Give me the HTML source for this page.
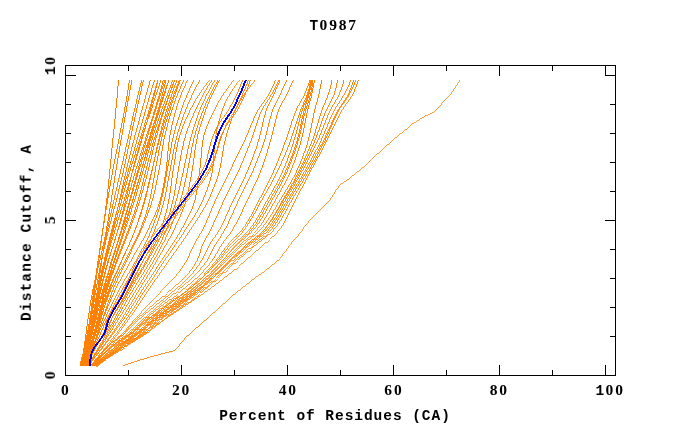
<!DOCTYPE html>
<html><head><meta charset="utf-8"><style>
html,body{margin:0;padding:0;background:#fff;}
svg{display:block;} text{will-change:transform;}
text{font-family:"Liberation Mono",monospace;}
</style></head><body>
<svg width="680" height="440" viewBox="0 0 680 440">
<rect width="680" height="440" fill="#fff"/>
<g fill="none" stroke="#ff8000" stroke-width="1" shape-rendering="crispEdges"><polyline points="118.5,80.0 118.3,83.0 118.0,86.0 117.7,89.0 117.5,92.0" stroke-width="1.00"/>
<polyline points="117.5,92.0 117.2,95.0 117.0,98.0 116.7,101.0 116.4,104.0" stroke-width="1.00"/>
<polyline points="116.4,104.0 116.1,107.0 115.9,110.0 115.6,113.0 115.3,116.0" stroke-width="1.00"/>
<polyline points="115.3,116.0 115.0,119.0 114.7,122.0 114.4,125.0 114.1,128.0" stroke-width="1.00"/>
<polyline points="114.1,128.0 113.7,131.0 113.4,134.0 113.1,137.0 112.8,140.0" stroke-width="0.99"/>
<polyline points="112.8,140.0 112.5,143.0 112.2,146.0 111.9,149.0 111.7,152.0" stroke-width="1.00"/>
<polyline points="111.7,152.0 111.4,155.0 111.1,158.0 110.8,161.0 110.5,164.0" stroke-width="1.00"/>
<polyline points="110.5,164.0 110.2,167.0 109.9,170.0 109.6,173.0 109.3,176.0" stroke-width="1.00"/>
<polyline points="109.3,176.0 109.0,179.0 108.7,182.0 108.4,185.0 108.1,188.0" stroke-width="1.00"/>
<polyline points="108.1,188.0 107.8,191.0 107.5,194.0 107.1,197.0 106.8,200.0" stroke-width="0.99"/>
<polyline points="106.8,200.0 106.4,203.0 106.0,206.0 105.7,209.0 105.3,212.0" stroke-width="0.99"/>
<polyline points="105.3,212.0 104.9,215.0 104.4,218.0 104.0,221.0 103.6,224.0" stroke-width="0.99"/>
<polyline points="103.6,224.0 103.2,227.0 102.7,230.0 102.3,233.0 101.9,236.0" stroke-width="0.99"/>
<polyline points="101.9,236.0 101.4,239.0 100.9,242.0 100.5,245.0 100.0,248.0" stroke-width="0.99"/>
<polyline points="100.0,248.0 99.5,251.0 99.1,254.0 98.6,257.0 98.1,260.0" stroke-width="0.99"/>
<polyline points="98.1,260.0 97.7,263.0 97.3,266.0 96.8,269.0 96.4,272.0" stroke-width="0.99"/>
<polyline points="96.4,272.0 96.0,275.0 95.5,278.0 95.1,281.0 94.7,284.0" stroke-width="0.99"/>
<polyline points="94.7,284.0 94.3,287.0 93.8,290.0 93.4,293.0 93.0,296.0" stroke-width="0.99"/>
<polyline points="93.0,296.0 92.6,299.0 92.2,302.0 91.8,305.0 91.4,308.0" stroke-width="0.99"/>
<polyline points="91.4,308.0 91.0,311.0 90.5,314.0 90.1,317.0 89.6,320.0" stroke-width="0.99"/>
<polyline points="89.6,320.0 89.1,323.0 88.6,326.0 88.1,329.0 87.6,332.0" stroke-width="0.99"/>
<polyline points="87.6,332.0 87.0,335.0 86.4,338.0 85.8,341.0 85.2,344.0" stroke-width="0.98"/>
<polyline points="85.2,344.0 84.6,347.0 83.9,350.0 83.2,353.0 82.4,356.0" stroke-width="0.97"/>
<polyline points="82.4,356.0 81.6,359.0 80.8,362.0 80.0,366.0" stroke-width="0.97"/>
<polyline points="129.5,80.0 129.0,83.0 128.6,86.0 128.1,89.0 127.6,92.0" stroke-width="0.99"/>
<polyline points="127.6,92.0 127.1,95.0 126.6,98.0 126.1,101.0 125.6,104.0" stroke-width="0.99"/>
<polyline points="125.6,104.0 125.0,107.0 124.5,110.0 124.0,113.0 123.4,116.0" stroke-width="0.98"/>
<polyline points="123.4,116.0 122.8,119.0 122.3,122.0 121.7,125.0 121.1,128.0" stroke-width="0.98"/>
<polyline points="121.1,128.0 120.5,131.0 119.9,134.0 119.4,137.0 118.8,140.0" stroke-width="0.98"/>
<polyline points="118.8,140.0 118.2,143.0 117.6,146.0 117.0,149.0 116.4,152.0" stroke-width="0.98"/>
<polyline points="116.4,152.0 115.8,155.0 115.2,158.0 114.6,161.0 114.0,164.0" stroke-width="0.98"/>
<polyline points="114.0,164.0 113.5,167.0 112.9,170.0 112.4,173.0 111.8,176.0" stroke-width="0.98"/>
<polyline points="111.8,176.0 111.3,179.0 110.7,182.0 110.2,185.0 109.7,188.0" stroke-width="0.98"/>
<polyline points="109.7,188.0 109.2,191.0 108.7,194.0 108.1,197.0 107.6,200.0" stroke-width="0.98"/>
<polyline points="107.6,200.0 107.1,203.0 106.7,206.0 106.2,209.0 105.7,212.0" stroke-width="0.99"/>
<polyline points="105.7,212.0 105.2,215.0 104.7,218.0 104.3,221.0 103.8,224.0" stroke-width="0.99"/>
<polyline points="103.8,224.0 103.4,227.0 102.9,230.0 102.5,233.0 102.0,236.0" stroke-width="0.99"/>
<polyline points="102.0,236.0 101.6,239.0 101.2,242.0 100.7,245.0 100.3,248.0" stroke-width="0.99"/>
<polyline points="100.3,248.0 99.9,251.0 99.5,254.0 99.1,257.0 98.6,260.0" stroke-width="0.99"/>
<polyline points="98.6,260.0 98.2,263.0 97.8,266.0 97.4,269.0 97.1,272.0" stroke-width="0.99"/>
<polyline points="97.1,272.0 96.7,275.0 96.3,278.0 95.9,281.0 95.5,284.0" stroke-width="0.99"/>
<polyline points="95.5,284.0 95.1,287.0 94.7,290.0 94.3,293.0 93.9,296.0" stroke-width="0.99"/>
<polyline points="93.9,296.0 93.5,299.0 93.1,302.0 92.6,305.0 92.2,308.0" stroke-width="0.99"/>
<polyline points="92.2,308.0 91.8,311.0 91.3,314.0 90.8,317.0 90.3,320.0" stroke-width="0.99"/>
<polyline points="90.3,320.0 89.8,323.0 89.3,326.0 88.7,329.0 88.2,332.0" stroke-width="0.98"/>
<polyline points="88.2,332.0 87.6,335.0 86.9,338.0 86.3,341.0 85.7,344.0" stroke-width="0.98"/>
<polyline points="85.7,344.0 85.0,347.0 84.3,350.0 83.6,353.0 82.8,356.0" stroke-width="0.97"/>
<polyline points="82.8,356.0 82.0,359.0 81.2,362.0 80.4,366.0" stroke-width="0.97"/>
<polyline points="132.0,80.0 131.4,83.0 130.8,86.0 130.3,89.0 129.7,92.0" stroke-width="0.98"/>
<polyline points="129.7,92.0 129.1,95.0 128.6,98.0 128.0,101.0 127.4,104.0" stroke-width="0.98"/>
<polyline points="127.4,104.0 126.9,107.0 126.3,110.0 125.8,113.0 125.3,116.0" stroke-width="0.98"/>
<polyline points="125.3,116.0 124.7,119.0 124.2,122.0 123.7,125.0 123.1,128.0" stroke-width="0.98"/>
<polyline points="123.1,128.0 122.6,131.0 122.1,134.0 121.6,137.0 121.0,140.0" stroke-width="0.98"/>
<polyline points="121.0,140.0 120.5,143.0 120.0,146.0 119.5,149.0 119.0,152.0" stroke-width="0.99"/>
<polyline points="119.0,152.0 118.5,155.0 118.0,158.0 117.5,161.0 117.0,164.0" stroke-width="0.99"/>
<polyline points="117.0,164.0 116.5,167.0 116.0,170.0 115.5,173.0 115.0,176.0" stroke-width="0.99"/>
<polyline points="115.0,176.0 114.6,179.0 114.1,182.0 113.6,185.0 113.2,188.0" stroke-width="0.99"/>
<polyline points="113.2,188.0 112.7,191.0 112.2,194.0 111.8,197.0 111.3,200.0" stroke-width="0.99"/>
<polyline points="111.3,200.0 110.8,203.0 110.4,206.0 109.9,209.0 109.4,212.0" stroke-width="0.99"/>
<polyline points="109.4,212.0 108.9,215.0 108.5,218.0 108.0,221.0 107.5,224.0" stroke-width="0.99"/>
<polyline points="107.5,224.0 106.9,227.0 106.4,230.0 105.8,233.0 105.2,236.0" stroke-width="0.98"/>
<polyline points="105.2,236.0 104.6,239.0 103.9,242.0 103.3,245.0 102.6,248.0" stroke-width="0.98"/>
<polyline points="102.6,248.0 101.9,251.0 101.2,254.0 100.6,257.0 99.9,260.0" stroke-width="0.98"/>
<polyline points="99.9,260.0 99.2,263.0 98.5,266.0 97.8,269.0 97.0,272.0" stroke-width="0.97"/>
<polyline points="97.0,272.0 96.3,275.0 95.6,278.0 94.8,281.0 94.2,284.0" stroke-width="0.97"/>
<polyline points="94.2,284.0 93.5,287.0 92.9,290.0 92.3,293.0 91.8,296.0" stroke-width="0.98"/>
<polyline points="91.8,296.0 91.2,299.0 90.7,302.0 90.2,305.0 89.7,308.0" stroke-width="0.98"/>
<polyline points="89.7,308.0 89.3,311.0 88.8,314.0 88.3,317.0 87.9,320.0" stroke-width="0.99"/>
<polyline points="87.9,320.0 87.4,323.0 87.0,326.0 86.6,329.0 86.2,332.0" stroke-width="0.99"/>
<polyline points="86.2,332.0 85.9,335.0 85.5,338.0 85.0,341.0 84.6,344.0" stroke-width="0.99"/>
<polyline points="84.6,344.0 84.1,347.0 83.6,350.0 83.1,353.0 82.6,356.0" stroke-width="0.99"/>
<polyline points="82.6,356.0 82.0,359.0 81.4,362.0 80.9,366.0" stroke-width="0.98"/>
<polyline points="141.6,80.0 140.9,83.0 140.2,86.0 139.4,89.0 138.7,92.0" stroke-width="0.97"/>
<polyline points="138.7,92.0 138.0,95.0 137.3,98.0 136.6,101.0 135.9,104.0" stroke-width="0.97"/>
<polyline points="135.9,104.0 135.2,107.0 134.5,110.0 133.8,113.0 133.1,116.0" stroke-width="0.97"/>
<polyline points="133.1,116.0 132.4,119.0 131.8,122.0 131.1,125.0 130.4,128.0" stroke-width="0.98"/>
<polyline points="130.4,128.0 129.7,131.0 129.0,134.0 128.4,137.0 127.7,140.0" stroke-width="0.98"/>
<polyline points="127.7,140.0 127.0,143.0 126.3,146.0 125.6,149.0 125.0,152.0" stroke-width="0.98"/>
<polyline points="125.0,152.0 124.3,155.0 123.6,158.0 122.9,161.0 122.2,164.0" stroke-width="0.97"/>
<polyline points="122.2,164.0 121.5,167.0 120.8,170.0 120.2,173.0 119.5,176.0" stroke-width="0.98"/>
<polyline points="119.5,176.0 118.8,179.0 118.1,182.0 117.4,185.0 116.7,188.0" stroke-width="0.97"/>
<polyline points="116.7,188.0 116.0,191.0 115.3,194.0 114.6,197.0 114.0,200.0" stroke-width="0.98"/>
<polyline points="114.0,200.0 113.3,203.0 112.6,206.0 111.9,209.0 111.2,212.0" stroke-width="0.97"/>
<polyline points="111.2,212.0 110.5,215.0 109.9,218.0 109.2,221.0 108.6,224.0" stroke-width="0.98"/>
<polyline points="108.6,224.0 107.9,227.0 107.3,230.0 106.7,233.0 106.2,236.0" stroke-width="0.98"/>
<polyline points="106.2,236.0 105.6,239.0 105.0,242.0 104.5,245.0 103.9,248.0" stroke-width="0.98"/>
<polyline points="103.9,248.0 103.4,251.0 102.9,254.0 102.4,257.0 101.9,260.0" stroke-width="0.99"/>
<polyline points="101.9,260.0 101.4,263.0 101.0,266.0 100.6,269.0 100.2,272.0" stroke-width="0.99"/>
<polyline points="100.2,272.0 99.8,275.0 99.4,278.0 98.9,281.0 98.5,284.0" stroke-width="0.99"/>
<polyline points="98.5,284.0 98.1,287.0 97.7,290.0 97.2,293.0 96.8,296.0" stroke-width="0.99"/>
<polyline points="96.8,296.0 96.4,299.0 95.9,302.0 95.5,305.0 95.0,308.0" stroke-width="0.99"/>
<polyline points="95.0,308.0 94.5,311.0 94.1,314.0 93.5,317.0 93.0,320.0" stroke-width="0.99"/>
<polyline points="93.0,320.0 92.4,323.0 91.8,326.0 91.1,329.0 90.5,332.0" stroke-width="0.98"/>
<polyline points="90.5,332.0 89.8,335.0 89.0,338.0 88.3,341.0 87.5,344.0" stroke-width="0.97"/>
<polyline points="87.5,344.0 86.7,347.0 85.8,350.0 84.9,353.0 84.0,356.0" stroke-width="0.96"/>
<polyline points="84.0,356.0 83.0,359.0 81.9,362.0 80.9,366.0" stroke-width="0.95"/>
<polyline points="143.5,80.0 142.8,83.0 142.1,86.0 141.4,89.0 140.7,92.0" stroke-width="0.97"/>
<polyline points="140.7,92.0 140.0,95.0 139.4,98.0 138.7,101.0 138.0,104.0" stroke-width="0.98"/>
<polyline points="138.0,104.0 137.3,107.0 136.6,110.0 136.0,113.0 135.3,116.0" stroke-width="0.98"/>
<polyline points="135.3,116.0 134.6,119.0 134.0,122.0 133.3,125.0 132.7,128.0" stroke-width="0.98"/>
<polyline points="132.7,128.0 132.0,131.0 131.4,134.0 130.7,137.0 130.1,140.0" stroke-width="0.98"/>
<polyline points="130.1,140.0 129.4,143.0 128.8,146.0 128.1,149.0 127.5,152.0" stroke-width="0.98"/>
<polyline points="127.5,152.0 126.9,155.0 126.2,158.0 125.6,161.0 124.9,164.0" stroke-width="0.98"/>
<polyline points="124.9,164.0 124.3,167.0 123.6,170.0 122.9,173.0 122.2,176.0" stroke-width="0.98"/>
<polyline points="122.2,176.0 121.5,179.0 120.8,182.0 120.1,185.0 119.4,188.0" stroke-width="0.97"/>
<polyline points="119.4,188.0 118.6,191.0 117.9,194.0 117.2,197.0 116.4,200.0" stroke-width="0.97"/>
<polyline points="116.4,200.0 115.7,203.0 114.9,206.0 114.1,209.0 113.3,212.0" stroke-width="0.97"/>
<polyline points="113.3,212.0 112.5,215.0 111.7,218.0 110.9,221.0 110.1,224.0" stroke-width="0.97"/>
<polyline points="110.1,224.0 109.3,227.0 108.6,230.0 107.8,233.0 107.1,236.0" stroke-width="0.97"/>
<polyline points="107.1,236.0 106.4,239.0 105.6,242.0 104.9,245.0 104.2,248.0" stroke-width="0.97"/>
<polyline points="104.2,248.0 103.5,251.0 102.9,254.0 102.2,257.0 101.6,260.0" stroke-width="0.98"/>
<polyline points="101.6,260.0 101.0,263.0 100.4,266.0 99.8,269.0 99.2,272.0" stroke-width="0.98"/>
<polyline points="99.2,272.0 98.7,275.0 98.1,278.0 97.6,281.0 97.0,284.0" stroke-width="0.98"/>
<polyline points="97.0,284.0 96.5,287.0 96.0,290.0 95.4,293.0 94.9,296.0" stroke-width="0.98"/>
<polyline points="94.9,296.0 94.4,299.0 94.0,302.0 93.5,305.0 93.0,308.0" stroke-width="0.99"/>
<polyline points="93.0,308.0 92.5,311.0 92.0,314.0 91.5,317.0 91.0,320.0" stroke-width="0.99"/>
<polyline points="91.0,320.0 90.4,323.0 89.9,326.0 89.3,329.0 88.8,332.0" stroke-width="0.98"/>
<polyline points="88.8,332.0 88.2,335.0 87.6,338.0 87.0,341.0 86.4,344.0" stroke-width="0.98"/>
<polyline points="86.4,344.0 85.7,347.0 85.0,350.0 84.3,353.0 83.6,356.0" stroke-width="0.97"/>
<polyline points="83.6,356.0 82.8,359.0 82.1,362.0 81.3,366.0" stroke-width="0.97"/>
<polyline points="150.4,80.0 149.5,83.0 148.7,86.0 147.8,89.0 147.0,92.0" stroke-width="0.96"/>
<polyline points="147.0,92.0 146.1,95.0 145.3,98.0 144.5,101.0 143.6,104.0" stroke-width="0.96"/>
<polyline points="143.6,104.0 142.8,107.0 142.0,110.0 141.1,113.0 140.3,116.0" stroke-width="0.96"/>
<polyline points="140.3,116.0 139.5,119.0 138.7,122.0 137.9,125.0 137.0,128.0" stroke-width="0.96"/>
<polyline points="137.0,128.0 136.2,131.0 135.4,134.0 134.6,137.0 133.9,140.0" stroke-width="0.97"/>
<polyline points="133.9,140.0 133.1,143.0 132.3,146.0 131.5,149.0 130.8,152.0" stroke-width="0.97"/>
<polyline points="130.8,152.0 130.0,155.0 129.3,158.0 128.5,161.0 127.8,164.0" stroke-width="0.97"/>
<polyline points="127.8,164.0 127.1,167.0 126.4,170.0 125.7,173.0 125.0,176.0" stroke-width="0.97"/>
<polyline points="125.0,176.0 124.3,179.0 123.6,182.0 123.0,185.0 122.3,188.0" stroke-width="0.98"/>
<polyline points="122.3,188.0 121.7,191.0 121.0,194.0 120.3,197.0 119.6,200.0" stroke-width="0.98"/>
<polyline points="119.6,200.0 118.9,203.0 118.2,206.0 117.5,209.0 116.8,212.0" stroke-width="0.97"/>
<polyline points="116.8,212.0 116.1,215.0 115.4,218.0 114.7,221.0 113.9,224.0" stroke-width="0.97"/>
<polyline points="113.9,224.0 113.2,227.0 112.5,230.0 111.7,233.0 110.9,236.0" stroke-width="0.97"/>
<polyline points="110.9,236.0 110.1,239.0 109.3,242.0 108.5,245.0 107.7,248.0" stroke-width="0.97"/>
<polyline points="107.7,248.0 106.9,251.0 106.1,254.0 105.3,257.0 104.5,260.0" stroke-width="0.97"/>
<polyline points="104.5,260.0 103.8,263.0 103.0,266.0 102.3,269.0 101.6,272.0" stroke-width="0.97"/>
<polyline points="101.6,272.0 100.9,275.0 100.2,278.0 99.5,281.0 98.8,284.0" stroke-width="0.97"/>
<polyline points="98.8,284.0 98.2,287.0 97.6,290.0 97.0,293.0 96.4,296.0" stroke-width="0.98"/>
<polyline points="96.4,296.0 95.8,299.0 95.3,302.0 94.8,305.0 94.3,308.0" stroke-width="0.98"/>
<polyline points="94.3,308.0 93.8,311.0 93.2,314.0 92.7,317.0 92.1,320.0" stroke-width="0.98"/>
<polyline points="92.1,320.0 91.5,323.0 91.0,326.0 90.4,329.0 89.8,332.0" stroke-width="0.98"/>
<polyline points="89.8,332.0 89.2,335.0 88.5,338.0 87.9,341.0 87.2,344.0" stroke-width="0.98"/>
<polyline points="87.2,344.0 86.5,347.0 85.8,350.0 85.0,353.0 84.2,356.0" stroke-width="0.97"/>
<polyline points="84.2,356.0 83.4,359.0 82.6,362.0 81.7,366.0" stroke-width="0.97"/>
<polyline points="154.5,80.0 153.6,83.0 152.7,86.0 151.8,89.0 150.9,92.0" stroke-width="0.96"/>
<polyline points="150.9,92.0 150.0,95.0 149.1,98.0 148.3,101.0 147.4,104.0" stroke-width="0.96"/>
<polyline points="147.4,104.0 146.5,107.0 145.6,110.0 144.8,113.0 143.9,116.0" stroke-width="0.96"/>
<polyline points="143.9,116.0 143.0,119.0 142.2,122.0 141.3,125.0 140.5,128.0" stroke-width="0.96"/>
<polyline points="140.5,128.0 139.6,131.0 138.8,134.0 137.9,137.0 137.1,140.0" stroke-width="0.96"/>
<polyline points="137.1,140.0 136.2,143.0 135.4,146.0 134.5,149.0 133.7,152.0" stroke-width="0.96"/>
<polyline points="133.7,152.0 132.8,155.0 132.0,158.0 131.1,161.0 130.3,164.0" stroke-width="0.96"/>
<polyline points="130.3,164.0 129.4,167.0 128.6,170.0 127.7,173.0 126.9,176.0" stroke-width="0.96"/>
<polyline points="126.9,176.0 126.0,179.0 125.1,182.0 124.3,185.0 123.4,188.0" stroke-width="0.96"/>
<polyline points="123.4,188.0 122.6,191.0 121.7,194.0 120.9,197.0 120.0,200.0" stroke-width="0.96"/>
<polyline points="120.0,200.0 119.2,203.0 118.3,206.0 117.5,209.0 116.6,212.0" stroke-width="0.96"/>
<polyline points="116.6,212.0 115.8,215.0 115.0,218.0 114.1,221.0 113.3,224.0" stroke-width="0.96"/>
<polyline points="113.3,224.0 112.5,227.0 111.7,230.0 111.0,233.0 110.2,236.0" stroke-width="0.97"/>
<polyline points="110.2,236.0 109.4,239.0 108.7,242.0 107.9,245.0 107.2,248.0" stroke-width="0.97"/>
<polyline points="107.2,248.0 106.5,251.0 105.8,254.0 105.1,257.0 104.4,260.0" stroke-width="0.97"/>
<polyline points="104.4,260.0 103.8,263.0 103.1,266.0 102.5,269.0 101.9,272.0" stroke-width="0.98"/>
<polyline points="101.9,272.0 101.3,275.0 100.7,278.0 100.1,281.0 99.5,284.0" stroke-width="0.98"/>
<polyline points="99.5,284.0 98.9,287.0 98.3,290.0 97.8,293.0 97.2,296.0" stroke-width="0.98"/>
<polyline points="97.2,296.0 96.6,299.0 96.1,302.0 95.6,305.0 95.0,308.0" stroke-width="0.98"/>
<polyline points="95.0,308.0 94.4,311.0 93.9,314.0 93.3,317.0 92.7,320.0" stroke-width="0.98"/>
<polyline points="92.7,320.0 92.1,323.0 91.4,326.0 90.8,329.0 90.1,332.0" stroke-width="0.98"/>
<polyline points="90.1,332.0 89.4,335.0 88.7,338.0 88.0,341.0 87.3,344.0" stroke-width="0.97"/>
<polyline points="87.3,344.0 86.6,347.0 85.8,350.0 85.1,353.0 84.3,356.0" stroke-width="0.97"/>
<polyline points="84.3,356.0 83.5,359.0 82.6,362.0 81.8,366.0" stroke-width="0.97"/>
<polyline points="157.7,80.0 156.9,83.0 156.0,86.0 155.2,89.0 154.4,92.0" stroke-width="0.96"/>
<polyline points="154.4,92.0 153.5,95.0 152.7,98.0 151.8,101.0 150.9,104.0" stroke-width="0.96"/>
<polyline points="150.9,104.0 150.0,107.0 149.1,110.0 148.2,113.0 147.3,116.0" stroke-width="0.96"/>
<polyline points="147.3,116.0 146.4,119.0 145.4,122.0 144.5,125.0 143.5,128.0" stroke-width="0.95"/>
<polyline points="143.5,128.0 142.6,131.0 141.6,134.0 140.6,137.0 139.7,140.0" stroke-width="0.95"/>
<polyline points="139.7,140.0 138.7,143.0 137.8,146.0 136.8,149.0 135.8,152.0" stroke-width="0.95"/>
<polyline points="135.8,152.0 134.9,155.0 133.9,158.0 133.0,161.0 132.0,164.0" stroke-width="0.95"/>
<polyline points="132.0,164.0 131.1,167.0 130.2,170.0 129.3,173.0 128.4,176.0" stroke-width="0.96"/>
<polyline points="128.4,176.0 127.6,179.0 126.7,182.0 125.9,185.0 125.0,188.0" stroke-width="0.96"/>
<polyline points="125.0,188.0 124.2,191.0 123.4,194.0 122.6,197.0 121.7,200.0" stroke-width="0.96"/>
<polyline points="121.7,200.0 120.9,203.0 120.1,206.0 119.2,209.0 118.4,212.0" stroke-width="0.96"/>
<polyline points="118.4,212.0 117.6,215.0 116.8,218.0 116.0,221.0 115.1,224.0" stroke-width="0.96"/>
<polyline points="115.1,224.0 114.3,227.0 113.5,230.0 112.7,233.0 111.9,236.0" stroke-width="0.97"/>
<polyline points="111.9,236.0 111.0,239.0 110.2,242.0 109.4,245.0 108.6,248.0" stroke-width="0.96"/>
<polyline points="108.6,248.0 107.8,251.0 107.0,254.0 106.2,257.0 105.5,260.0" stroke-width="0.97"/>
<polyline points="105.5,260.0 104.8,263.0 104.1,266.0 103.5,269.0 102.8,272.0" stroke-width="0.98"/>
<polyline points="102.8,272.0 102.2,275.0 101.6,278.0 100.9,281.0 100.4,284.0" stroke-width="0.98"/>
<polyline points="100.4,284.0 99.8,287.0 99.2,290.0 98.6,293.0 98.1,296.0" stroke-width="0.98"/>
<polyline points="98.1,296.0 97.6,299.0 97.1,302.0 96.6,305.0 96.1,308.0" stroke-width="0.99"/>
<polyline points="96.1,308.0 95.6,311.0 95.1,314.0 94.5,317.0 94.0,320.0" stroke-width="0.98"/>
<polyline points="94.0,320.0 93.4,323.0 92.7,326.0 92.1,329.0 91.4,332.0" stroke-width="0.98"/>
<polyline points="91.4,332.0 90.7,335.0 90.0,338.0 89.3,341.0 88.5,344.0" stroke-width="0.97"/>
<polyline points="88.5,344.0 87.7,347.0 86.8,350.0 86.0,353.0 85.1,356.0" stroke-width="0.96"/>
<polyline points="85.1,356.0 84.1,359.0 83.1,362.0 82.1,366.0" stroke-width="0.96"/>
<polyline points="158.0,80.0 157.3,83.0 156.5,86.0 155.7,89.0 155.0,92.0" stroke-width="0.97"/>
<polyline points="155.0,92.0 154.2,95.0 153.4,98.0 152.6,101.0 151.8,104.0" stroke-width="0.97"/>
<polyline points="151.8,104.0 151.0,107.0 150.2,110.0 149.4,113.0 148.6,116.0" stroke-width="0.97"/>
<polyline points="148.6,116.0 147.8,119.0 147.0,122.0 146.1,125.0 145.3,128.0" stroke-width="0.96"/>
<polyline points="145.3,128.0 144.4,131.0 143.6,134.0 142.7,137.0 141.8,140.0" stroke-width="0.96"/>
<polyline points="141.8,140.0 141.0,143.0 140.1,146.0 139.2,149.0 138.3,152.0" stroke-width="0.96"/>
<polyline points="138.3,152.0 137.4,155.0 136.5,158.0 135.6,161.0 134.7,164.0" stroke-width="0.96"/>
<polyline points="134.7,164.0 133.9,167.0 133.0,170.0 132.1,173.0 131.2,176.0" stroke-width="0.96"/>
<polyline points="131.2,176.0 130.3,179.0 129.4,182.0 128.6,185.0 127.7,188.0" stroke-width="0.96"/>
<polyline points="127.7,188.0 126.8,191.0 125.9,194.0 125.0,197.0 124.2,200.0" stroke-width="0.96"/>
<polyline points="124.2,200.0 123.3,203.0 122.4,206.0 121.4,209.0 120.5,212.0" stroke-width="0.96"/>
<polyline points="120.5,212.0 119.6,215.0 118.7,218.0 117.8,221.0 116.9,224.0" stroke-width="0.96"/>
<polyline points="116.9,224.0 116.0,227.0 115.1,230.0 114.2,233.0 113.3,236.0" stroke-width="0.96"/>
<polyline points="113.3,236.0 112.3,239.0 111.4,242.0 110.5,245.0 109.6,248.0" stroke-width="0.96"/>
<polyline points="109.6,248.0 108.7,251.0 107.9,254.0 107.0,257.0 106.2,260.0" stroke-width="0.96"/>
<polyline points="106.2,260.0 105.4,263.0 104.7,266.0 103.9,269.0 103.2,272.0" stroke-width="0.97"/>
<polyline points="103.2,272.0 102.4,275.0 101.7,278.0 101.1,281.0 100.4,284.0" stroke-width="0.97"/>
<polyline points="100.4,284.0 99.7,287.0 99.1,290.0 98.5,293.0 98.0,296.0" stroke-width="0.98"/>
<polyline points="98.0,296.0 97.5,299.0 97.0,302.0 96.5,305.0 96.0,308.0" stroke-width="0.99"/>
<polyline points="96.0,308.0 95.5,311.0 94.9,314.0 94.4,317.0 93.9,320.0" stroke-width="0.98"/>
<polyline points="93.9,320.0 93.3,323.0 92.7,326.0 92.1,329.0 91.5,332.0" stroke-width="0.98"/>
<polyline points="91.5,332.0 90.9,335.0 90.3,338.0 89.6,341.0 88.9,344.0" stroke-width="0.98"/>
<polyline points="88.9,344.0 88.2,347.0 87.3,350.0 86.5,353.0 85.6,356.0" stroke-width="0.96"/>
<polyline points="85.6,356.0 84.6,359.0 83.6,362.0 82.6,366.0" stroke-width="0.96"/>
<polyline points="161.0,80.0 160.0,83.0 159.0,86.0 158.1,89.0 157.1,92.0" stroke-width="0.95"/>
<polyline points="157.1,92.0 156.1,95.0 155.1,98.0 154.1,101.0 153.1,104.0" stroke-width="0.95"/>
<polyline points="153.1,104.0 152.2,107.0 151.2,110.0 150.2,113.0 149.2,116.0" stroke-width="0.95"/>
<polyline points="149.2,116.0 148.1,119.0 147.1,122.0 146.1,125.0 145.0,128.0" stroke-width="0.94"/>
<polyline points="145.0,128.0 144.0,131.0 143.1,134.0 142.1,137.0 141.2,140.0" stroke-width="0.95"/>
<polyline points="141.2,140.0 140.2,143.0 139.4,146.0 138.5,149.0 137.6,152.0" stroke-width="0.96"/>
<polyline points="137.6,152.0 136.7,155.0 135.9,158.0 135.1,161.0 134.3,164.0" stroke-width="0.96"/>
<polyline points="134.3,164.0 133.5,167.0 132.7,170.0 132.0,173.0 131.3,176.0" stroke-width="0.97"/>
<polyline points="131.3,176.0 130.6,179.0 129.9,182.0 129.2,185.0 128.6,188.0" stroke-width="0.98"/>
<polyline points="128.6,188.0 127.9,191.0 127.2,194.0 126.5,197.0 125.8,200.0" stroke-width="0.97"/>
<polyline points="125.8,200.0 125.0,203.0 124.3,206.0 123.5,209.0 122.7,212.0" stroke-width="0.97"/>
<polyline points="122.7,212.0 121.9,215.0 121.1,218.0 120.3,221.0 119.5,224.0" stroke-width="0.97"/>
<polyline points="119.5,224.0 118.7,227.0 117.8,230.0 117.0,233.0 116.1,236.0" stroke-width="0.96"/>
<polyline points="116.1,236.0 115.1,239.0 114.2,242.0 113.3,245.0 112.3,248.0" stroke-width="0.95"/>
<polyline points="112.3,248.0 111.4,251.0 110.5,254.0 109.6,257.0 108.8,260.0" stroke-width="0.96"/>
<polyline points="108.8,260.0 107.9,263.0 107.1,266.0 106.3,269.0 105.5,272.0" stroke-width="0.96"/>
<polyline points="105.5,272.0 104.7,275.0 103.9,278.0 103.1,281.0 102.4,284.0" stroke-width="0.97"/>
<polyline points="102.4,284.0 101.7,287.0 101.0,290.0 100.3,293.0 99.7,296.0" stroke-width="0.98"/>
<polyline points="99.7,296.0 99.1,299.0 98.5,302.0 97.9,305.0 97.3,308.0" stroke-width="0.98"/>
<polyline points="97.3,308.0 96.8,311.0 96.2,314.0 95.6,317.0 94.9,320.0" stroke-width="0.98"/>
<polyline points="94.9,320.0 94.3,323.0 93.6,326.0 93.0,329.0 92.3,332.0" stroke-width="0.98"/>
<polyline points="92.3,332.0 91.6,335.0 90.9,338.0 90.2,341.0 89.4,344.0" stroke-width="0.97"/>
<polyline points="89.4,344.0 88.6,347.0 87.7,350.0 86.8,353.0 85.8,356.0" stroke-width="0.96"/>
<polyline points="85.8,356.0 84.8,359.0 83.8,362.0 82.7,366.0" stroke-width="0.95"/>
<polyline points="163.3,80.0 162.5,83.0 161.7,86.0 160.9,89.0 160.0,92.0" stroke-width="0.96"/>
<polyline points="160.0,92.0 159.2,95.0 158.3,98.0 157.4,101.0 156.5,104.0" stroke-width="0.96"/>
<polyline points="156.5,104.0 155.6,107.0 154.7,110.0 153.8,113.0 152.9,116.0" stroke-width="0.96"/>
<polyline points="152.9,116.0 151.9,119.0 151.0,122.0 150.0,125.0 149.1,128.0" stroke-width="0.95"/>
<polyline points="149.1,128.0 148.1,131.0 147.1,134.0 146.1,137.0 145.2,140.0" stroke-width="0.95"/>
<polyline points="145.2,140.0 144.2,143.0 143.3,146.0 142.3,149.0 141.4,152.0" stroke-width="0.95"/>
<polyline points="141.4,152.0 140.4,155.0 139.5,158.0 138.5,161.0 137.6,164.0" stroke-width="0.95"/>
<polyline points="137.6,164.0 136.7,167.0 135.8,170.0 134.9,173.0 134.0,176.0" stroke-width="0.96"/>
<polyline points="134.0,176.0 133.2,179.0 132.3,182.0 131.5,185.0 130.6,188.0" stroke-width="0.96"/>
<polyline points="130.6,188.0 129.8,191.0 128.9,194.0 128.1,197.0 127.2,200.0" stroke-width="0.96"/>
<polyline points="127.2,200.0 126.3,203.0 125.4,206.0 124.5,209.0 123.6,212.0" stroke-width="0.96"/>
<polyline points="123.6,212.0 122.7,215.0 121.8,218.0 120.9,221.0 119.9,224.0" stroke-width="0.96"/>
<polyline points="119.9,224.0 119.0,227.0 118.1,230.0 117.1,233.0 116.1,236.0" stroke-width="0.95"/>
<polyline points="116.1,236.0 115.2,239.0 114.2,242.0 113.2,245.0 112.2,248.0" stroke-width="0.95"/>
<polyline points="112.2,248.0 111.2,251.0 110.2,254.0 109.3,257.0 108.4,260.0" stroke-width="0.95"/>
<polyline points="108.4,260.0 107.5,263.0 106.7,266.0 105.8,269.0 105.0,272.0" stroke-width="0.96"/>
<polyline points="105.0,272.0 104.2,275.0 103.4,278.0 102.6,281.0 101.8,284.0" stroke-width="0.97"/>
<polyline points="101.8,284.0 101.0,287.0 100.3,290.0 99.6,293.0 99.0,296.0" stroke-width="0.97"/>
<polyline points="99.0,296.0 98.3,299.0 97.7,302.0 97.1,305.0 96.5,308.0" stroke-width="0.98"/>
<polyline points="96.5,308.0 95.9,311.0 95.3,314.0 94.6,317.0 94.0,320.0" stroke-width="0.98"/>
<polyline points="94.0,320.0 93.3,323.0 92.6,326.0 92.0,329.0 91.3,332.0" stroke-width="0.98"/>
<polyline points="91.3,332.0 90.6,335.0 89.9,338.0 89.2,341.0 88.5,344.0" stroke-width="0.97"/>
<polyline points="88.5,344.0 87.7,347.0 87.0,350.0 86.2,353.0 85.4,356.0" stroke-width="0.97"/>
<polyline points="85.4,356.0 84.6,359.0 83.8,362.0 83.0,366.0" stroke-width="0.97"/>
<polyline points="165.0,80.0 164.0,83.0 163.1,86.0 162.1,89.0 161.2,92.0" stroke-width="0.95"/>
<polyline points="161.2,92.0 160.2,95.0 159.3,98.0 158.3,101.0 157.4,104.0" stroke-width="0.95"/>
<polyline points="157.4,104.0 156.5,107.0 155.5,110.0 154.6,113.0 153.7,116.0" stroke-width="0.96"/>
<polyline points="153.7,116.0 152.7,119.0 151.8,122.0 150.9,125.0 150.0,128.0" stroke-width="0.96"/>
<polyline points="150.0,128.0 149.1,131.0 148.2,134.0 147.3,137.0 146.4,140.0" stroke-width="0.96"/>
<polyline points="146.4,140.0 145.5,143.0 144.7,146.0 143.8,149.0 143.0,152.0" stroke-width="0.96"/>
<polyline points="143.0,152.0 142.1,155.0 141.3,158.0 140.4,161.0 139.6,164.0" stroke-width="0.96"/>
<polyline points="139.6,164.0 138.8,167.0 137.9,170.0 137.1,173.0 136.3,176.0" stroke-width="0.96"/>
<polyline points="136.3,176.0 135.5,179.0 134.6,182.0 133.8,185.0 133.0,188.0" stroke-width="0.96"/>
<polyline points="133.0,188.0 132.2,191.0 131.4,194.0 130.5,197.0 129.7,200.0" stroke-width="0.96"/>
<polyline points="129.7,200.0 128.9,203.0 128.0,206.0 127.2,209.0 126.3,212.0" stroke-width="0.96"/>
<polyline points="126.3,212.0 125.5,215.0 124.6,218.0 123.8,221.0 122.9,224.0" stroke-width="0.96"/>
<polyline points="122.9,224.0 122.0,227.0 121.2,230.0 120.3,233.0 119.4,236.0" stroke-width="0.96"/>
<polyline points="119.4,236.0 118.5,239.0 117.6,242.0 116.7,245.0 115.7,248.0" stroke-width="0.96"/>
<polyline points="115.7,248.0 114.8,251.0 113.9,254.0 113.0,257.0 112.1,260.0" stroke-width="0.96"/>
<polyline points="112.1,260.0 111.1,263.0 110.2,266.0 109.3,269.0 108.3,272.0" stroke-width="0.95"/>
<polyline points="108.3,272.0 107.4,275.0 106.4,278.0 105.5,281.0 104.6,284.0" stroke-width="0.96"/>
<polyline points="104.6,284.0 103.7,287.0 102.8,290.0 101.9,293.0 101.1,296.0" stroke-width="0.96"/>
<polyline points="101.1,296.0 100.2,299.0 99.4,302.0 98.5,305.0 97.7,308.0" stroke-width="0.96"/>
<polyline points="97.7,308.0 96.9,311.0 96.1,314.0 95.3,317.0 94.5,320.0" stroke-width="0.97"/>
<polyline points="94.5,320.0 93.7,323.0 93.0,326.0 92.2,329.0 91.4,332.0" stroke-width="0.97"/>
<polyline points="91.4,332.0 90.7,335.0 89.9,338.0 89.2,341.0 88.4,344.0" stroke-width="0.97"/>
<polyline points="88.4,344.0 87.7,347.0 87.0,350.0 86.3,353.0 85.5,356.0" stroke-width="0.97"/>
<polyline points="85.5,356.0 84.8,359.0 84.1,362.0 83.4,366.0" stroke-width="0.98"/>
<polyline points="166.0,80.0 165.3,83.0 164.5,86.0 163.8,89.0 163.0,92.0" stroke-width="0.97"/>
<polyline points="163.0,92.0 162.2,95.0 161.4,98.0 160.6,101.0 159.7,104.0" stroke-width="0.96"/>
<polyline points="159.7,104.0 158.9,107.0 158.0,110.0 157.1,113.0 156.2,116.0" stroke-width="0.96"/>
<polyline points="156.2,116.0 155.3,119.0 154.3,122.0 153.4,125.0 152.4,128.0" stroke-width="0.95"/>
<polyline points="152.4,128.0 151.4,131.0 150.5,134.0 149.5,137.0 148.5,140.0" stroke-width="0.95"/>
<polyline points="148.5,140.0 147.6,143.0 146.6,146.0 145.7,149.0 144.7,152.0" stroke-width="0.95"/>
<polyline points="144.7,152.0 143.7,155.0 142.8,158.0 141.8,161.0 140.9,164.0" stroke-width="0.95"/>
<polyline points="140.9,164.0 139.9,167.0 139.0,170.0 138.1,173.0 137.2,176.0" stroke-width="0.96"/>
<polyline points="137.2,176.0 136.3,179.0 135.5,182.0 134.6,185.0 133.8,188.0" stroke-width="0.96"/>
<polyline points="133.8,188.0 132.9,191.0 132.1,194.0 131.2,197.0 130.3,200.0" stroke-width="0.96"/>
<polyline points="130.3,200.0 129.5,203.0 128.6,206.0 127.7,209.0 126.9,212.0" stroke-width="0.96"/>
<polyline points="126.9,212.0 126.0,215.0 125.2,218.0 124.3,221.0 123.4,224.0" stroke-width="0.96"/>
<polyline points="123.4,224.0 122.5,227.0 121.6,230.0 120.7,233.0 119.8,236.0" stroke-width="0.96"/>
<polyline points="119.8,236.0 118.9,239.0 118.0,242.0 117.0,245.0 116.1,248.0" stroke-width="0.96"/>
<polyline points="116.1,248.0 115.2,251.0 114.3,254.0 113.3,257.0 112.4,260.0" stroke-width="0.96"/>
<polyline points="112.4,260.0 111.5,263.0 110.6,266.0 109.7,269.0 108.8,272.0" stroke-width="0.96"/>
<polyline points="108.8,272.0 107.9,275.0 107.0,278.0 106.1,281.0 105.2,284.0" stroke-width="0.96"/>
<polyline points="105.2,284.0 104.3,287.0 103.5,290.0 102.7,293.0 101.9,296.0" stroke-width="0.96"/>
<polyline points="101.9,296.0 101.1,299.0 100.4,302.0 99.6,305.0 98.9,308.0" stroke-width="0.97"/>
<polyline points="98.9,308.0 98.1,311.0 97.4,314.0 96.6,317.0 95.9,320.0" stroke-width="0.97"/>
<polyline points="95.9,320.0 95.1,323.0 94.4,326.0 93.6,329.0 92.8,332.0" stroke-width="0.97"/>
<polyline points="92.8,332.0 92.1,335.0 91.3,338.0 90.5,341.0 89.7,344.0" stroke-width="0.97"/>
<polyline points="89.7,344.0 88.9,347.0 88.1,350.0 87.2,353.0 86.3,356.0" stroke-width="0.96"/>
<polyline points="86.3,356.0 85.4,359.0 84.5,362.0 83.6,366.0" stroke-width="0.96"/>
<polyline points="169.0,80.0 167.9,83.0 166.8,86.0 165.8,89.0 164.7,92.0" stroke-width="0.94"/>
<polyline points="164.7,92.0 163.7,95.0 162.6,98.0 161.6,101.0 160.6,104.0" stroke-width="0.95"/>
<polyline points="160.6,104.0 159.6,107.0 158.6,110.0 157.7,113.0 156.7,116.0" stroke-width="0.95"/>
<polyline points="156.7,116.0 155.7,119.0 154.8,122.0 153.8,125.0 152.9,128.0" stroke-width="0.95"/>
<polyline points="152.9,128.0 152.0,131.0 151.1,134.0 150.2,137.0 149.4,140.0" stroke-width="0.96"/>
<polyline points="149.4,140.0 148.5,143.0 147.7,146.0 146.9,149.0 146.2,152.0" stroke-width="0.97"/>
<polyline points="146.2,152.0 145.4,155.0 144.7,158.0 143.9,161.0 143.1,164.0" stroke-width="0.97"/>
<polyline points="143.1,164.0 142.3,167.0 141.5,170.0 140.7,173.0 139.9,176.0" stroke-width="0.97"/>
<polyline points="139.9,176.0 139.1,179.0 138.2,182.0 137.4,185.0 136.5,188.0" stroke-width="0.96"/>
<polyline points="136.5,188.0 135.7,191.0 134.8,194.0 133.8,197.0 132.9,200.0" stroke-width="0.96"/>
<polyline points="132.9,200.0 131.9,203.0 130.9,206.0 129.8,209.0 128.7,212.0" stroke-width="0.94"/>
<polyline points="128.7,212.0 127.6,215.0 126.5,218.0 125.3,221.0 124.2,224.0" stroke-width="0.94"/>
<polyline points="124.2,224.0 123.1,227.0 122.0,230.0 121.0,233.0 119.9,236.0" stroke-width="0.94"/>
<polyline points="119.9,236.0 118.8,239.0 117.7,242.0 116.6,245.0 115.5,248.0" stroke-width="0.94"/>
<polyline points="115.5,248.0 114.5,251.0 113.5,254.0 112.5,257.0 111.6,260.0" stroke-width="0.95"/>
<polyline points="111.6,260.0 110.8,263.0 110.0,266.0 109.2,269.0 108.5,272.0" stroke-width="0.97"/>
<polyline points="108.5,272.0 107.7,275.0 107.0,278.0 106.3,281.0 105.6,284.0" stroke-width="0.97"/>
<polyline points="105.6,284.0 105.0,287.0 104.3,290.0 103.6,293.0 103.0,296.0" stroke-width="0.98"/>
<polyline points="103.0,296.0 102.4,299.0 101.9,302.0 101.3,305.0 100.7,308.0" stroke-width="0.98"/>
<polyline points="100.7,308.0 100.1,311.0 99.5,314.0 98.8,317.0 98.1,320.0" stroke-width="0.98"/>
<polyline points="98.1,320.0 97.4,323.0 96.6,326.0 95.8,329.0 95.0,332.0" stroke-width="0.97"/>
<polyline points="95.0,332.0 94.1,335.0 93.2,338.0 92.3,341.0 91.4,344.0" stroke-width="0.96"/>
<polyline points="91.4,344.0 90.4,347.0 89.4,350.0 88.4,353.0 87.3,356.0" stroke-width="0.95"/>
<polyline points="87.3,356.0 86.2,359.0 85.0,362.0 83.9,366.0" stroke-width="0.94"/>
<polyline points="169.0,80.0 168.0,83.0 167.1,86.0 166.1,89.0 165.2,92.0" stroke-width="0.95"/>
<polyline points="165.2,92.0 164.2,95.0 163.3,98.0 162.3,101.0 161.4,104.0" stroke-width="0.95"/>
<polyline points="161.4,104.0 160.4,107.0 159.5,110.0 158.6,113.0 157.7,116.0" stroke-width="0.96"/>
<polyline points="157.7,116.0 156.7,119.0 155.8,122.0 154.9,125.0 154.0,128.0" stroke-width="0.96"/>
<polyline points="154.0,128.0 153.1,131.0 152.2,134.0 151.3,137.0 150.4,140.0" stroke-width="0.96"/>
<polyline points="150.4,140.0 149.5,143.0 148.6,146.0 147.7,149.0 146.8,152.0" stroke-width="0.96"/>
<polyline points="146.8,152.0 145.9,155.0 145.0,158.0 144.1,161.0 143.3,164.0" stroke-width="0.96"/>
<polyline points="143.3,164.0 142.4,167.0 141.5,170.0 140.6,173.0 139.7,176.0" stroke-width="0.96"/>
<polyline points="139.7,176.0 138.9,179.0 138.0,182.0 137.1,185.0 136.2,188.0" stroke-width="0.96"/>
<polyline points="136.2,188.0 135.4,191.0 134.5,194.0 133.6,197.0 132.7,200.0" stroke-width="0.96"/>
<polyline points="132.7,200.0 131.9,203.0 131.0,206.0 130.1,209.0 129.2,212.0" stroke-width="0.96"/>
<polyline points="129.2,212.0 128.3,215.0 127.5,218.0 126.6,221.0 125.7,224.0" stroke-width="0.96"/>
<polyline points="125.7,224.0 124.8,227.0 123.8,230.0 122.9,233.0 122.0,236.0" stroke-width="0.96"/>
<polyline points="122.0,236.0 121.0,239.0 120.0,242.0 119.1,245.0 118.1,248.0" stroke-width="0.95"/>
<polyline points="118.1,248.0 117.1,251.0 116.2,254.0 115.2,257.0 114.2,260.0" stroke-width="0.95"/>
<polyline points="114.2,260.0 113.3,263.0 112.3,266.0 111.4,269.0 110.4,272.0" stroke-width="0.95"/>
<polyline points="110.4,272.0 109.4,275.0 108.5,278.0 107.5,281.0 106.6,284.0" stroke-width="0.95"/>
<polyline points="106.6,284.0 105.7,287.0 104.9,290.0 104.0,293.0 103.2,296.0" stroke-width="0.96"/>
<polyline points="103.2,296.0 102.5,299.0 101.7,302.0 100.9,305.0 100.2,308.0" stroke-width="0.97"/>
<polyline points="100.2,308.0 99.4,311.0 98.7,314.0 97.9,317.0 97.2,320.0" stroke-width="0.97"/>
<polyline points="97.2,320.0 96.4,323.0 95.7,326.0 94.9,329.0 94.1,332.0" stroke-width="0.97"/>
<polyline points="94.1,332.0 93.4,335.0 92.6,338.0 91.8,341.0 91.0,344.0" stroke-width="0.97"/>
<polyline points="91.0,344.0 90.1,347.0 89.2,350.0 88.3,353.0 87.3,356.0" stroke-width="0.96"/>
<polyline points="87.3,356.0 86.3,359.0 85.3,362.0 84.3,366.0" stroke-width="0.96"/>
<polyline points="173.0,80.0 171.8,83.0 170.6,86.0 169.5,89.0 168.3,92.0" stroke-width="0.93"/>
<polyline points="168.3,92.0 167.2,95.0 166.1,98.0 165.0,101.0 163.9,104.0" stroke-width="0.94"/>
<polyline points="163.9,104.0 162.8,107.0 161.7,110.0 160.7,113.0 159.7,116.0" stroke-width="0.94"/>
<polyline points="159.7,116.0 158.6,119.0 157.6,122.0 156.7,125.0 155.7,128.0" stroke-width="0.95"/>
<polyline points="155.7,128.0 154.7,131.0 153.8,134.0 152.8,137.0 151.9,140.0" stroke-width="0.95"/>
<polyline points="151.9,140.0 151.0,143.0 150.1,146.0 149.3,149.0 148.4,152.0" stroke-width="0.96"/>
<polyline points="148.4,152.0 147.6,155.0 146.7,158.0 145.9,161.0 145.0,164.0" stroke-width="0.96"/>
<polyline points="145.0,164.0 144.2,167.0 143.3,170.0 142.5,173.0 141.6,176.0" stroke-width="0.96"/>
<polyline points="141.6,176.0 140.8,179.0 139.9,182.0 139.1,185.0 138.2,188.0" stroke-width="0.96"/>
<polyline points="138.2,188.0 137.3,191.0 136.5,194.0 135.6,197.0 134.7,200.0" stroke-width="0.96"/>
<polyline points="134.7,200.0 133.7,203.0 132.8,206.0 131.8,209.0 130.9,212.0" stroke-width="0.95"/>
<polyline points="130.9,212.0 129.9,215.0 128.9,218.0 127.9,221.0 126.9,224.0" stroke-width="0.95"/>
<polyline points="126.9,224.0 125.9,227.0 124.9,230.0 123.9,233.0 122.9,236.0" stroke-width="0.95"/>
<polyline points="122.9,236.0 121.9,239.0 120.9,242.0 119.9,245.0 118.9,248.0" stroke-width="0.95"/>
<polyline points="118.9,248.0 117.9,251.0 116.9,254.0 115.9,257.0 114.9,260.0" stroke-width="0.95"/>
<polyline points="114.9,260.0 114.0,263.0 113.0,266.0 112.1,269.0 111.2,272.0" stroke-width="0.96"/>
<polyline points="111.2,272.0 110.3,275.0 109.4,278.0 108.5,281.0 107.7,284.0" stroke-width="0.96"/>
<polyline points="107.7,284.0 106.8,287.0 106.0,290.0 105.2,293.0 104.4,296.0" stroke-width="0.96"/>
<polyline points="104.4,296.0 103.6,299.0 102.9,302.0 102.2,305.0 101.4,308.0" stroke-width="0.97"/>
<polyline points="101.4,308.0 100.7,311.0 99.9,314.0 99.2,317.0 98.4,320.0" stroke-width="0.97"/>
<polyline points="98.4,320.0 97.6,323.0 96.8,326.0 95.9,329.0 95.1,332.0" stroke-width="0.96"/>
<polyline points="95.1,332.0 94.3,335.0 93.4,338.0 92.6,341.0 91.7,344.0" stroke-width="0.96"/>
<polyline points="91.7,344.0 90.7,347.0 89.8,350.0 88.8,353.0 87.7,356.0" stroke-width="0.95"/>
<polyline points="87.7,356.0 86.7,359.0 85.6,362.0 84.5,366.0" stroke-width="0.95"/>
<polyline points="174.7,80.0 173.5,83.0 172.4,86.0 171.3,89.0 170.2,92.0" stroke-width="0.94"/>
<polyline points="170.2,92.0 169.1,95.0 168.0,98.0 166.9,101.0 165.9,104.0" stroke-width="0.94"/>
<polyline points="165.9,104.0 164.8,107.0 163.8,110.0 162.7,113.0 161.7,116.0" stroke-width="0.94"/>
<polyline points="161.7,116.0 160.7,119.0 159.7,122.0 158.7,125.0 157.7,128.0" stroke-width="0.95"/>
<polyline points="157.7,128.0 156.7,131.0 155.8,134.0 154.9,137.0 154.0,140.0" stroke-width="0.96"/>
<polyline points="154.0,140.0 153.1,143.0 152.3,146.0 151.5,149.0 150.7,152.0" stroke-width="0.96"/>
<polyline points="150.7,152.0 149.9,155.0 149.1,158.0 148.3,161.0 147.6,164.0" stroke-width="0.97"/>
<polyline points="147.6,164.0 146.8,167.0 146.0,170.0 145.2,173.0 144.5,176.0" stroke-width="0.97"/>
<polyline points="144.5,176.0 143.7,179.0 143.0,182.0 142.2,185.0 141.5,188.0" stroke-width="0.97"/>
<polyline points="141.5,188.0 140.7,191.0 139.9,194.0 139.1,197.0 138.2,200.0" stroke-width="0.96"/>
<polyline points="138.2,200.0 137.3,203.0 136.4,206.0 135.4,209.0 134.5,212.0" stroke-width="0.96"/>
<polyline points="134.5,212.0 133.5,215.0 132.4,218.0 131.4,221.0 130.4,224.0" stroke-width="0.95"/>
<polyline points="130.4,224.0 129.3,227.0 128.2,230.0 127.2,233.0 126.0,236.0" stroke-width="0.94"/>
<polyline points="126.0,236.0 124.9,239.0 123.7,242.0 122.6,245.0 121.4,248.0" stroke-width="0.93"/>
<polyline points="121.4,248.0 120.2,251.0 119.0,254.0 117.9,257.0 116.8,260.0" stroke-width="0.93"/>
<polyline points="116.8,260.0 115.7,263.0 114.6,266.0 113.5,269.0 112.4,272.0" stroke-width="0.94"/>
<polyline points="112.4,272.0 111.3,275.0 110.2,278.0 109.2,281.0 108.2,284.0" stroke-width="0.94"/>
<polyline points="108.2,284.0 107.2,287.0 106.2,290.0 105.3,293.0 104.4,296.0" stroke-width="0.95"/>
<polyline points="104.4,296.0 103.5,299.0 102.6,302.0 101.7,305.0 100.9,308.0" stroke-width="0.96"/>
<polyline points="100.9,308.0 100.1,311.0 99.2,314.0 98.4,317.0 97.5,320.0" stroke-width="0.96"/>
<polyline points="97.5,320.0 96.7,323.0 95.9,326.0 95.0,329.0 94.2,332.0" stroke-width="0.96"/>
<polyline points="94.2,332.0 93.4,335.0 92.5,338.0 91.7,341.0 90.8,344.0" stroke-width="0.96"/>
<polyline points="90.8,344.0 90.0,347.0 89.1,350.0 88.2,353.0 87.4,356.0" stroke-width="0.96"/>
<polyline points="87.4,356.0 86.5,359.0 85.6,362.0 84.7,366.0" stroke-width="0.96"/>
<polyline points="175.0,80.0 173.8,83.0 172.7,86.0 171.5,89.0 170.4,92.0" stroke-width="0.93"/>
<polyline points="170.4,92.0 169.3,95.0 168.3,98.0 167.2,101.0 166.2,104.0" stroke-width="0.94"/>
<polyline points="166.2,104.0 165.2,107.0 164.2,110.0 163.3,113.0 162.4,116.0" stroke-width="0.95"/>
<polyline points="162.4,116.0 161.4,119.0 160.6,122.0 159.7,125.0 158.8,128.0" stroke-width="0.96"/>
<polyline points="158.8,128.0 158.0,131.0 157.2,134.0 156.4,137.0 155.6,140.0" stroke-width="0.97"/>
<polyline points="155.6,140.0 154.8,143.0 154.1,146.0 153.3,149.0 152.6,152.0" stroke-width="0.97"/>
<polyline points="152.6,152.0 151.9,155.0 151.2,158.0 150.5,161.0 149.8,164.0" stroke-width="0.97"/>
<polyline points="149.8,164.0 149.0,167.0 148.3,170.0 147.5,173.0 146.7,176.0" stroke-width="0.97"/>
<polyline points="146.7,176.0 145.9,179.0 145.1,182.0 144.3,185.0 143.5,188.0" stroke-width="0.97"/>
<polyline points="143.5,188.0 142.6,191.0 141.8,194.0 140.9,197.0 140.0,200.0" stroke-width="0.96"/>
<polyline points="140.0,200.0 139.0,203.0 138.0,206.0 137.0,209.0 136.0,212.0" stroke-width="0.95"/>
<polyline points="136.0,212.0 135.0,215.0 133.9,218.0 132.8,221.0 131.7,224.0" stroke-width="0.94"/>
<polyline points="131.7,224.0 130.6,227.0 129.5,230.0 128.3,233.0 127.2,236.0" stroke-width="0.94"/>
<polyline points="127.2,236.0 126.0,239.0 124.7,242.0 123.5,245.0 122.3,248.0" stroke-width="0.93"/>
<polyline points="122.3,248.0 121.1,251.0 119.9,254.0 118.7,257.0 117.6,260.0" stroke-width="0.93"/>
<polyline points="117.6,260.0 116.5,263.0 115.4,266.0 114.2,269.0 113.2,272.0" stroke-width="0.94"/>
<polyline points="113.2,272.0 112.1,275.0 111.0,278.0 110.0,281.0 109.0,284.0" stroke-width="0.94"/>
<polyline points="109.0,284.0 108.1,287.0 107.1,290.0 106.3,293.0 105.4,296.0" stroke-width="0.96"/>
<polyline points="105.4,296.0 104.7,299.0 103.9,302.0 103.1,305.0 102.4,308.0" stroke-width="0.97"/>
<polyline points="102.4,308.0 101.6,311.0 100.9,314.0 100.1,317.0 99.3,320.0" stroke-width="0.97"/>
<polyline points="99.3,320.0 98.5,323.0 97.7,326.0 96.9,329.0 96.1,332.0" stroke-width="0.97"/>
<polyline points="96.1,332.0 95.3,335.0 94.4,338.0 93.6,341.0 92.7,344.0" stroke-width="0.96"/>
<polyline points="92.7,344.0 91.7,347.0 90.7,350.0 89.7,353.0 88.6,356.0" stroke-width="0.95"/>
<polyline points="88.6,356.0 87.5,359.0 86.3,362.0 85.1,366.0" stroke-width="0.94"/>
<polyline points="177.0,80.0 175.9,83.0 174.7,86.0 173.6,89.0 172.5,92.0" stroke-width="0.94"/>
<polyline points="172.5,92.0 171.5,95.0 170.5,98.0 169.5,101.0 168.5,104.0" stroke-width="0.95"/>
<polyline points="168.5,104.0 167.5,107.0 166.6,110.0 165.7,113.0 164.9,116.0" stroke-width="0.96"/>
<polyline points="164.9,116.0 164.0,119.0 163.2,122.0 162.4,125.0 161.6,128.0" stroke-width="0.96"/>
<polyline points="161.6,128.0 160.9,131.0 160.1,134.0 159.4,137.0 158.7,140.0" stroke-width="0.97"/>
<polyline points="158.7,140.0 158.0,143.0 157.3,146.0 156.6,149.0 156.0,152.0" stroke-width="0.98"/>
<polyline points="156.0,152.0 155.4,155.0 154.8,158.0 154.2,161.0 153.5,164.0" stroke-width="0.98"/>
<polyline points="153.5,164.0 152.9,167.0 152.2,170.0 151.5,173.0 150.9,176.0" stroke-width="0.98"/>
<polyline points="150.9,176.0 150.2,179.0 149.5,182.0 148.8,185.0 148.1,188.0" stroke-width="0.97"/>
<polyline points="148.1,188.0 147.4,191.0 146.6,194.0 145.9,197.0 145.0,200.0" stroke-width="0.97"/>
<polyline points="145.0,200.0 144.2,203.0 143.3,206.0 142.4,209.0 141.5,212.0" stroke-width="0.96"/>
<polyline points="141.5,212.0 140.5,215.0 139.5,218.0 138.4,221.0 137.4,224.0" stroke-width="0.95"/>
<polyline points="137.4,224.0 136.3,227.0 135.2,230.0 134.0,233.0 132.8,236.0" stroke-width="0.93"/>
<polyline points="132.8,236.0 131.5,239.0 130.1,242.0 128.8,245.0 127.4,248.0" stroke-width="0.91"/>
<polyline points="127.4,248.0 126.0,251.0 124.6,254.0 123.2,257.0 121.9,260.0" stroke-width="0.91"/>
<polyline points="121.9,260.0 120.5,263.0 119.2,266.0 117.8,269.0 116.4,272.0" stroke-width="0.91"/>
<polyline points="116.4,272.0 115.0,275.0 113.6,278.0 112.3,281.0 111.0,284.0" stroke-width="0.91"/>
<polyline points="111.0,284.0 109.8,287.0 108.6,290.0 107.5,293.0 106.5,296.0" stroke-width="0.94"/>
<polyline points="106.5,296.0 105.5,299.0 104.5,302.0 103.6,305.0 102.7,308.0" stroke-width="0.95"/>
<polyline points="102.7,308.0 101.8,311.0 100.9,314.0 100.0,317.0 99.1,320.0" stroke-width="0.96"/>
<polyline points="99.1,320.0 98.2,323.0 97.4,326.0 96.6,329.0 95.8,332.0" stroke-width="0.96"/>
<polyline points="95.8,332.0 95.0,335.0 94.1,338.0 93.3,341.0 92.4,344.0" stroke-width="0.96"/>
<polyline points="92.4,344.0 91.5,347.0 90.5,350.0 89.6,353.0 88.6,356.0" stroke-width="0.95"/>
<polyline points="88.6,356.0 87.5,359.0 86.5,362.0 85.4,366.0" stroke-width="0.95"/>
<polyline points="179.5,80.0 178.3,83.0 177.1,86.0 175.9,89.0 174.7,92.0" stroke-width="0.93"/>
<polyline points="174.7,92.0 173.6,95.0 172.5,98.0 171.4,101.0 170.3,104.0" stroke-width="0.94"/>
<polyline points="170.3,104.0 169.3,107.0 168.3,110.0 167.3,113.0 166.3,116.0" stroke-width="0.95"/>
<polyline points="166.3,116.0 165.4,119.0 164.4,122.0 163.5,125.0 162.7,128.0" stroke-width="0.96"/>
<polyline points="162.7,128.0 161.8,131.0 160.9,134.0 160.1,137.0 159.3,140.0" stroke-width="0.96"/>
<polyline points="159.3,140.0 158.5,143.0 157.7,146.0 157.0,149.0 156.2,152.0" stroke-width="0.97"/>
<polyline points="156.2,152.0 155.5,155.0 154.8,158.0 154.1,161.0 153.4,164.0" stroke-width="0.97"/>
<polyline points="153.4,164.0 152.7,167.0 151.9,170.0 151.2,173.0 150.5,176.0" stroke-width="0.97"/>
<polyline points="150.5,176.0 149.8,179.0 149.0,182.0 148.3,185.0 147.6,188.0" stroke-width="0.97"/>
<polyline points="147.6,188.0 146.9,191.0 146.1,194.0 145.3,197.0 144.5,200.0" stroke-width="0.97"/>
<polyline points="144.5,200.0 143.7,203.0 142.8,206.0 141.9,209.0 141.0,212.0" stroke-width="0.96"/>
<polyline points="141.0,212.0 140.1,215.0 139.1,218.0 138.2,221.0 137.2,224.0" stroke-width="0.95"/>
<polyline points="137.2,224.0 136.1,227.0 135.0,230.0 133.9,233.0 132.7,236.0" stroke-width="0.94"/>
<polyline points="132.7,236.0 131.5,239.0 130.2,242.0 128.9,245.0 127.5,248.0" stroke-width="0.92"/>
<polyline points="127.5,248.0 126.2,251.0 124.9,254.0 123.5,257.0 122.2,260.0" stroke-width="0.91"/>
<polyline points="122.2,260.0 120.9,263.0 119.6,266.0 118.3,269.0 116.9,272.0" stroke-width="0.91"/>
<polyline points="116.9,272.0 115.6,275.0 114.2,278.0 113.0,281.0 111.7,284.0" stroke-width="0.92"/>
<polyline points="111.7,284.0 110.6,287.0 109.5,290.0 108.5,293.0 107.5,296.0" stroke-width="0.94"/>
<polyline points="107.5,296.0 106.6,299.0 105.7,302.0 104.9,305.0 104.0,308.0" stroke-width="0.96"/>
<polyline points="104.0,308.0 103.2,311.0 102.4,314.0 101.6,317.0 100.7,320.0" stroke-width="0.96"/>
<polyline points="100.7,320.0 99.9,323.0 99.1,326.0 98.3,329.0 97.5,332.0" stroke-width="0.97"/>
<polyline points="97.5,332.0 96.7,335.0 95.9,338.0 95.0,341.0 94.1,344.0" stroke-width="0.96"/>
<polyline points="94.1,344.0 93.1,347.0 92.0,350.0 90.8,353.0 89.6,356.0" stroke-width="0.94"/>
<polyline points="89.6,356.0 88.3,359.0 87.0,362.0 85.6,366.0" stroke-width="0.93"/>
<polyline points="180.3,80.0 179.2,83.0 178.1,86.0 177.0,89.0 175.9,92.0" stroke-width="0.94"/>
<polyline points="175.9,92.0 174.9,95.0 173.8,98.0 172.8,101.0 171.8,104.0" stroke-width="0.95"/>
<polyline points="171.8,104.0 170.8,107.0 169.9,110.0 168.9,113.0 168.0,116.0" stroke-width="0.95"/>
<polyline points="168.0,116.0 167.1,119.0 166.1,122.0 165.2,125.0 164.4,128.0" stroke-width="0.96"/>
<polyline points="164.4,128.0 163.5,131.0 162.7,134.0 162.0,137.0 161.2,140.0" stroke-width="0.97"/>
<polyline points="161.2,140.0 160.6,143.0 159.9,146.0 159.3,149.0 158.7,152.0" stroke-width="0.98"/>
<polyline points="158.7,152.0 158.1,155.0 157.6,158.0 157.0,161.0 156.5,164.0" stroke-width="0.98"/>
<polyline points="156.5,164.0 155.9,167.0 155.3,170.0 154.8,173.0 154.3,176.0" stroke-width="0.98"/>
<polyline points="154.3,176.0 153.8,179.0 153.3,182.0 152.7,185.0 152.2,188.0" stroke-width="0.98"/>
<polyline points="152.2,188.0 151.7,191.0 151.1,194.0 150.5,197.0 149.8,200.0" stroke-width="0.98"/>
<polyline points="149.8,200.0 149.1,203.0 148.3,206.0 147.4,209.0 146.5,212.0" stroke-width="0.96"/>
<polyline points="146.5,212.0 145.5,215.0 144.5,218.0 143.5,221.0 142.4,224.0" stroke-width="0.95"/>
<polyline points="142.4,224.0 141.2,227.0 140.1,230.0 138.8,233.0 137.5,236.0" stroke-width="0.93"/>
<polyline points="137.5,236.0 136.1,239.0 134.6,242.0 133.1,245.0 131.5,248.0" stroke-width="0.89"/>
<polyline points="131.5,248.0 129.9,251.0 128.4,254.0 126.8,257.0 125.3,260.0" stroke-width="0.89"/>
<polyline points="125.3,260.0 123.8,263.0 122.3,266.0 120.8,269.0 119.2,272.0" stroke-width="0.89"/>
<polyline points="119.2,272.0 117.7,275.0 116.2,278.0 114.8,281.0 113.3,284.0" stroke-width="0.90"/>
<polyline points="113.3,284.0 112.0,287.0 110.7,290.0 109.5,293.0 108.3,296.0" stroke-width="0.92"/>
<polyline points="108.3,296.0 107.2,299.0 106.1,302.0 105.0,305.0 104.0,308.0" stroke-width="0.94"/>
<polyline points="104.0,308.0 103.0,311.0 102.0,314.0 101.0,317.0 100.0,320.0" stroke-width="0.95"/>
<polyline points="100.0,320.0 99.0,323.0 98.1,326.0 97.1,329.0 96.2,332.0" stroke-width="0.95"/>
<polyline points="96.2,332.0 95.3,335.0 94.4,338.0 93.5,341.0 92.6,344.0" stroke-width="0.96"/>
<polyline points="92.6,344.0 91.7,347.0 90.7,350.0 89.8,353.0 88.8,356.0" stroke-width="0.95"/>
<polyline points="88.8,356.0 87.9,359.0 86.9,362.0 86.0,366.0" stroke-width="0.96"/>
<polyline points="184.0,80.0 182.6,83.0 181.2,86.0 179.9,89.0 178.6,92.0" stroke-width="0.91"/>
<polyline points="178.6,92.0 177.4,95.0 176.2,98.0 175.0,101.0 173.9,104.0" stroke-width="0.93"/>
<polyline points="173.9,104.0 172.9,107.0 171.9,110.0 170.9,113.0 170.0,116.0" stroke-width="0.95"/>
<polyline points="170.0,116.0 169.1,119.0 168.3,122.0 167.5,125.0 166.7,128.0" stroke-width="0.96"/>
<polyline points="166.7,128.0 165.9,131.0 165.2,134.0 164.5,137.0 163.9,140.0" stroke-width="0.97"/>
<polyline points="163.9,140.0 163.3,143.0 162.8,146.0 162.3,149.0 161.9,152.0" stroke-width="0.99"/>
<polyline points="161.9,152.0 161.4,155.0 161.0,158.0 160.5,161.0 160.1,164.0" stroke-width="0.99"/>
<polyline points="160.1,164.0 159.6,167.0 159.0,170.0 158.5,173.0 157.9,176.0" stroke-width="0.98"/>
<polyline points="157.9,176.0 157.3,179.0 156.7,182.0 156.0,185.0 155.4,188.0" stroke-width="0.98"/>
<polyline points="155.4,188.0 154.7,191.0 153.9,194.0 153.2,197.0 152.4,200.0" stroke-width="0.97"/>
<polyline points="152.4,200.0 151.5,203.0 150.5,206.0 149.5,209.0 148.4,212.0" stroke-width="0.95"/>
<polyline points="148.4,212.0 147.3,215.0 146.1,218.0 144.9,221.0 143.7,224.0" stroke-width="0.93"/>
<polyline points="143.7,224.0 142.5,227.0 141.2,230.0 139.9,233.0 138.6,236.0" stroke-width="0.92"/>
<polyline points="138.6,236.0 137.2,239.0 135.7,242.0 134.2,245.0 132.7,248.0" stroke-width="0.90"/>
<polyline points="132.7,248.0 131.3,251.0 129.8,254.0 128.3,257.0 126.9,260.0" stroke-width="0.90"/>
<polyline points="126.9,260.0 125.4,263.0 124.0,266.0 122.5,269.0 121.1,272.0" stroke-width="0.90"/>
<polyline points="121.1,272.0 119.6,275.0 118.2,278.0 116.8,281.0 115.4,284.0" stroke-width="0.90"/>
<polyline points="115.4,284.0 114.1,287.0 112.9,290.0 111.7,293.0 110.6,296.0" stroke-width="0.93"/>
<polyline points="110.6,296.0 109.5,299.0 108.4,302.0 107.4,305.0 106.4,308.0" stroke-width="0.94"/>
<polyline points="106.4,308.0 105.3,311.0 104.3,314.0 103.3,317.0 102.3,320.0" stroke-width="0.95"/>
<polyline points="102.3,320.0 101.3,323.0 100.4,326.0 99.4,329.0 98.5,332.0" stroke-width="0.95"/>
<polyline points="98.5,332.0 97.5,335.0 96.6,338.0 95.6,341.0 94.6,344.0" stroke-width="0.95"/>
<polyline points="94.6,344.0 93.5,347.0 92.4,350.0 91.2,353.0 90.0,356.0" stroke-width="0.93"/>
<polyline points="90.0,356.0 88.8,359.0 87.6,362.0 86.3,366.0" stroke-width="0.94"/>
<polyline points="187.5,80.0 186.1,83.0 184.8,86.0 183.5,89.0 182.2,92.0" stroke-width="0.91"/>
<polyline points="182.2,92.0 181.0,95.0 179.9,98.0 178.8,101.0 177.8,104.0" stroke-width="0.94"/>
<polyline points="177.8,104.0 176.8,107.0 176.0,110.0 175.1,113.0 174.3,116.0" stroke-width="0.96"/>
<polyline points="174.3,116.0 173.5,119.0 172.8,122.0 172.1,125.0 171.4,128.0" stroke-width="0.97"/>
<polyline points="171.4,128.0 170.8,131.0 170.2,134.0 169.7,137.0 169.3,140.0" stroke-width="0.98"/>
<polyline points="169.3,140.0 168.9,143.0 168.5,146.0 168.2,149.0 167.9,152.0" stroke-width="0.99"/>
<polyline points="167.9,152.0 167.6,155.0 167.4,158.0 167.1,161.0 166.8,164.0" stroke-width="1.00"/>
<polyline points="166.8,164.0 166.5,167.0 166.1,170.0 165.6,173.0 165.2,176.0" stroke-width="0.99"/>
<polyline points="165.2,176.0 164.7,179.0 164.2,182.0 163.6,185.0 163.0,188.0" stroke-width="0.98"/>
<polyline points="163.0,188.0 162.4,191.0 161.7,194.0 161.0,197.0 160.2,200.0" stroke-width="0.97"/>
<polyline points="160.2,200.0 159.3,203.0 158.3,206.0 157.3,209.0 156.1,212.0" stroke-width="0.95"/>
<polyline points="156.1,212.0 154.8,215.0 153.5,218.0 152.1,221.0 150.7,224.0" stroke-width="0.91"/>
<polyline points="150.7,224.0 149.3,227.0 147.9,230.0 146.4,233.0 144.9,236.0" stroke-width="0.90"/>
<polyline points="144.9,236.0 143.3,239.0 141.6,242.0 139.9,245.0 138.2,248.0" stroke-width="0.87"/>
<polyline points="138.2,248.0 136.5,251.0 134.7,254.0 133.0,257.0 131.4,260.0" stroke-width="0.87"/>
<polyline points="131.4,260.0 129.7,263.0 128.0,266.0 126.4,269.0 124.7,272.0" stroke-width="0.87"/>
<polyline points="124.7,272.0 123.0,275.0 121.4,278.0 119.8,281.0 118.2,284.0" stroke-width="0.88"/>
<polyline points="118.2,284.0 116.7,287.0 115.2,290.0 113.8,293.0 112.4,296.0" stroke-width="0.90"/>
<polyline points="112.4,296.0 111.1,299.0 109.8,302.0 108.5,305.0 107.3,308.0" stroke-width="0.92"/>
<polyline points="107.3,308.0 106.1,311.0 104.9,314.0 103.7,317.0 102.5,320.0" stroke-width="0.93"/>
<polyline points="102.5,320.0 101.4,323.0 100.2,326.0 99.1,329.0 98.1,332.0" stroke-width="0.94"/>
<polyline points="98.1,332.0 97.0,335.0 95.9,338.0 94.9,341.0 93.8,344.0" stroke-width="0.94"/>
<polyline points="93.8,344.0 92.7,347.0 91.7,350.0 90.6,353.0 89.6,356.0" stroke-width="0.94"/>
<polyline points="89.6,356.0 88.5,359.0 87.5,362.0 86.4,366.0" stroke-width="0.95"/>
<polyline points="194.0,80.0 192.5,83.0 191.1,86.0 189.7,89.0 188.4,92.0" stroke-width="0.91"/>
<polyline points="188.4,92.0 187.1,95.0 185.8,98.0 184.6,101.0 183.4,104.0" stroke-width="0.92"/>
<polyline points="183.4,104.0 182.3,107.0 181.3,110.0 180.2,113.0 179.2,116.0" stroke-width="0.94"/>
<polyline points="179.2,116.0 178.3,119.0 177.3,122.0 176.4,125.0 175.6,128.0" stroke-width="0.96"/>
<polyline points="175.6,128.0 174.7,131.0 173.9,134.0 173.2,137.0 172.5,140.0" stroke-width="0.97"/>
<polyline points="172.5,140.0 171.9,143.0 171.3,146.0 170.8,149.0 170.3,152.0" stroke-width="0.98"/>
<polyline points="170.3,152.0 169.8,155.0 169.3,158.0 168.8,161.0 168.3,164.0" stroke-width="0.99"/>
<polyline points="168.3,164.0 167.8,167.0 167.3,170.0 166.7,173.0 166.2,176.0" stroke-width="0.98"/>
<polyline points="166.2,176.0 165.7,179.0 165.1,182.0 164.6,185.0 164.0,188.0" stroke-width="0.98"/>
<polyline points="164.0,188.0 163.4,191.0 162.8,194.0 162.1,197.0 161.4,200.0" stroke-width="0.98"/>
<polyline points="161.4,200.0 160.6,203.0 159.8,206.0 158.9,209.0 158.0,212.0" stroke-width="0.96"/>
<polyline points="158.0,212.0 157.0,215.0 155.9,218.0 154.8,221.0 153.7,224.0" stroke-width="0.94"/>
<polyline points="153.7,224.0 152.6,227.0 151.4,230.0 150.1,233.0 148.8,236.0" stroke-width="0.93"/>
<polyline points="148.8,236.0 147.4,239.0 145.9,242.0 144.4,245.0 142.8,248.0" stroke-width="0.89"/>
<polyline points="142.8,248.0 141.2,251.0 139.6,254.0 137.9,257.0 136.3,260.0" stroke-width="0.88"/>
<polyline points="136.3,260.0 134.7,263.0 133.0,266.0 131.3,269.0 129.5,272.0" stroke-width="0.87"/>
<polyline points="129.5,272.0 127.7,275.0 125.9,278.0 124.1,281.0 122.4,284.0" stroke-width="0.86"/>
<polyline points="122.4,284.0 120.7,287.0 119.1,290.0 117.5,293.0 116.0,296.0" stroke-width="0.88"/>
<polyline points="116.0,296.0 114.5,299.0 112.9,302.0 111.5,305.0 110.0,308.0" stroke-width="0.89"/>
<polyline points="110.0,308.0 108.6,311.0 107.2,314.0 105.8,317.0 104.5,320.0" stroke-width="0.91"/>
<polyline points="104.5,320.0 103.1,323.0 101.9,326.0 100.6,329.0 99.4,332.0" stroke-width="0.92"/>
<polyline points="99.4,332.0 98.2,335.0 97.0,338.0 95.8,341.0 94.7,344.0" stroke-width="0.93"/>
<polyline points="94.7,344.0 93.5,347.0 92.4,350.0 91.2,353.0 90.1,356.0" stroke-width="0.93"/>
<polyline points="90.1,356.0 89.0,359.0 87.9,362.0 86.9,366.0" stroke-width="0.95"/>
<polyline points="200.0,80.0 198.4,83.0 196.7,86.0 195.2,89.0 193.7,92.0" stroke-width="0.89"/>
<polyline points="193.7,92.0 192.2,95.0 190.8,98.0 189.4,101.0 188.1,104.0" stroke-width="0.91"/>
<polyline points="188.1,104.0 186.9,107.0 185.7,110.0 184.5,113.0 183.4,116.0" stroke-width="0.93"/>
<polyline points="183.4,116.0 182.3,119.0 181.3,122.0 180.3,125.0 179.4,128.0" stroke-width="0.95"/>
<polyline points="179.4,128.0 178.4,131.0 177.6,134.0 176.8,137.0 176.0,140.0" stroke-width="0.96"/>
<polyline points="176.0,140.0 175.3,143.0 174.6,146.0 174.0,149.0 173.5,152.0" stroke-width="0.98"/>
<polyline points="173.5,152.0 172.9,155.0 172.3,158.0 171.8,161.0 171.3,164.0" stroke-width="0.98"/>
<polyline points="171.3,164.0 170.7,167.0 170.1,170.0 169.6,173.0 169.0,176.0" stroke-width="0.98"/>
<polyline points="169.0,176.0 168.4,179.0 167.9,182.0 167.4,185.0 166.8,188.0" stroke-width="0.98"/>
<polyline points="166.8,188.0 166.2,191.0 165.6,194.0 164.9,197.0 164.2,200.0" stroke-width="0.98"/>
<polyline points="164.2,200.0 163.5,203.0 162.7,206.0 161.8,209.0 160.9,212.0" stroke-width="0.96"/>
<polyline points="160.9,212.0 160.0,215.0 159.0,218.0 158.0,221.0 156.9,224.0" stroke-width="0.95"/>
<polyline points="156.9,224.0 155.8,227.0 154.7,230.0 153.5,233.0 152.2,236.0" stroke-width="0.93"/>
<polyline points="152.2,236.0 150.8,239.0 149.3,242.0 147.8,245.0 146.2,248.0" stroke-width="0.89"/>
<polyline points="146.2,248.0 144.6,251.0 143.0,254.0 141.3,257.0 139.7,260.0" stroke-width="0.88"/>
<polyline points="139.7,260.0 138.0,263.0 136.3,266.0 134.5,269.0 132.7,272.0" stroke-width="0.86"/>
<polyline points="132.7,272.0 130.8,275.0 129.0,278.0 127.1,281.0 125.3,284.0" stroke-width="0.85"/>
<polyline points="125.3,284.0 123.6,287.0 121.9,290.0 120.2,293.0 118.6,296.0" stroke-width="0.87"/>
<polyline points="118.6,296.0 117.0,299.0 115.4,302.0 113.9,305.0 112.3,308.0" stroke-width="0.89"/>
<polyline points="112.3,308.0 110.8,311.0 109.3,314.0 107.9,317.0 106.5,320.0" stroke-width="0.90"/>
<polyline points="106.5,320.0 105.1,323.0 103.7,326.0 102.4,329.0 101.1,332.0" stroke-width="0.91"/>
<polyline points="101.1,332.0 99.8,335.0 98.5,338.0 97.2,341.0 96.0,344.0" stroke-width="0.92"/>
<polyline points="96.0,344.0 94.7,347.0 93.4,350.0 92.2,353.0 90.9,356.0" stroke-width="0.92"/>
<polyline points="90.9,356.0 89.7,359.0 88.4,362.0 87.2,366.0" stroke-width="0.93"/>
<polyline points="209.5,80.0 207.2,83.0 205.0,86.0 202.9,89.0 200.8,92.0" stroke-width="0.81"/>
<polyline points="200.8,92.0 198.8,95.0 196.9,98.0 195.1,101.0 193.4,104.0" stroke-width="0.85"/>
<polyline points="193.4,104.0 191.8,107.0 190.2,110.0 188.8,113.0 187.4,116.0" stroke-width="0.89"/>
<polyline points="187.4,116.0 186.0,119.0 184.7,122.0 183.5,125.0 182.3,128.0" stroke-width="0.92"/>
<polyline points="182.3,128.0 181.2,131.0 180.2,134.0 179.3,137.0 178.5,140.0" stroke-width="0.95"/>
<polyline points="178.5,140.0 177.8,143.0 177.2,146.0 176.6,149.0 176.1,152.0" stroke-width="0.98"/>
<polyline points="176.1,152.0 175.5,155.0 175.1,158.0 174.6,161.0 174.1,164.0" stroke-width="0.99"/>
<polyline points="174.1,164.0 173.7,167.0 173.2,170.0 172.7,173.0 172.3,176.0" stroke-width="0.99"/>
<polyline points="172.3,176.0 171.9,179.0 171.5,182.0 171.1,185.0 170.7,188.0" stroke-width="0.99"/>
<polyline points="170.7,188.0 170.3,191.0 169.8,194.0 169.4,197.0 168.8,200.0" stroke-width="0.99"/>
<polyline points="168.8,200.0 168.2,203.0 167.6,206.0 166.9,209.0 166.2,212.0" stroke-width="0.98"/>
<polyline points="166.2,212.0 165.4,215.0 164.6,218.0 163.7,221.0 162.8,224.0" stroke-width="0.96"/>
<polyline points="162.8,224.0 161.9,227.0 160.9,230.0 159.8,233.0 158.6,236.0" stroke-width="0.94"/>
<polyline points="158.6,236.0 157.3,239.0 156.0,242.0 154.5,245.0 153.1,248.0" stroke-width="0.91"/>
<polyline points="153.1,248.0 151.5,251.0 150.0,254.0 148.4,257.0 146.8,260.0" stroke-width="0.89"/>
<polyline points="146.8,260.0 145.2,263.0 143.5,266.0 141.7,269.0 139.8,272.0" stroke-width="0.86"/>
<polyline points="139.8,272.0 138.0,275.0 136.1,278.0 134.2,281.0 132.3,284.0" stroke-width="0.85"/>
<polyline points="132.3,284.0 130.5,287.0 128.6,290.0 126.9,293.0 125.1,296.0" stroke-width="0.86"/>
<polyline points="125.1,296.0 123.3,299.0 121.5,302.0 119.7,305.0 118.0,308.0" stroke-width="0.86"/>
<polyline points="118.0,308.0 116.2,311.0 114.5,314.0 112.7,317.0 111.0,320.0" stroke-width="0.86"/>
<polyline points="111.0,320.0 109.3,323.0 107.6,326.0 105.9,329.0 104.3,332.0" stroke-width="0.87"/>
<polyline points="104.3,332.0 102.6,335.0 101.0,338.0 99.4,341.0 97.8,344.0" stroke-width="0.88"/>
<polyline points="97.8,344.0 96.2,347.0 94.7,350.0 93.2,353.0 91.7,356.0" stroke-width="0.89"/>
<polyline points="91.7,356.0 90.2,359.0 88.7,362.0 87.3,366.0" stroke-width="0.91"/>
<polyline points="212.0,80.0 210.1,83.0 208.3,86.0 206.5,89.0 204.7,92.0" stroke-width="0.85"/>
<polyline points="204.7,92.0 203.0,95.0 201.4,98.0 199.8,101.0 198.3,104.0" stroke-width="0.88"/>
<polyline points="198.3,104.0 196.9,107.0 195.5,110.0 194.2,113.0 192.9,116.0" stroke-width="0.91"/>
<polyline points="192.9,116.0 191.6,119.0 190.4,122.0 189.2,125.0 188.1,128.0" stroke-width="0.93"/>
<polyline points="188.1,128.0 187.1,131.0 186.1,134.0 185.2,137.0 184.3,140.0" stroke-width="0.95"/>
<polyline points="184.3,140.0 183.6,143.0 182.9,146.0 182.2,149.0 181.6,152.0" stroke-width="0.98"/>
<polyline points="181.6,152.0 181.1,155.0 180.5,158.0 180.0,161.0 179.4,164.0" stroke-width="0.98"/>
<polyline points="179.4,164.0 178.9,167.0 178.3,170.0 177.8,173.0 177.3,176.0" stroke-width="0.98"/>
<polyline points="177.3,176.0 176.8,179.0 176.4,182.0 175.9,185.0 175.4,188.0" stroke-width="0.99"/>
<polyline points="175.4,188.0 174.9,191.0 174.4,194.0 173.8,197.0 173.1,200.0" stroke-width="0.98"/>
<polyline points="173.1,200.0 172.4,203.0 171.6,206.0 170.8,209.0 169.9,212.0" stroke-width="0.97"/>
<polyline points="169.9,212.0 168.9,215.0 167.9,218.0 166.9,221.0 165.8,224.0" stroke-width="0.95"/>
<polyline points="165.8,224.0 164.7,227.0 163.5,230.0 162.2,233.0 160.9,236.0" stroke-width="0.93"/>
<polyline points="160.9,236.0 159.5,239.0 157.9,242.0 156.4,245.0 154.7,248.0" stroke-width="0.89"/>
<polyline points="154.7,248.0 153.1,251.0 151.4,254.0 149.7,257.0 148.0,260.0" stroke-width="0.87"/>
<polyline points="148.0,260.0 146.4,263.0 144.6,266.0 142.8,269.0 141.0,272.0" stroke-width="0.86"/>
<polyline points="141.0,272.0 139.2,275.0 137.4,278.0 135.6,281.0 133.8,284.0" stroke-width="0.86"/>
<polyline points="133.8,284.0 132.0,287.0 130.3,290.0 128.6,293.0 126.9,296.0" stroke-width="0.87"/>
<polyline points="126.9,296.0 125.3,299.0 123.7,302.0 122.0,305.0 120.4,308.0" stroke-width="0.88"/>
<polyline points="120.4,308.0 118.8,311.0 117.2,314.0 115.6,317.0 113.9,320.0" stroke-width="0.88"/>
<polyline points="113.9,320.0 112.3,323.0 110.7,326.0 109.0,329.0 107.4,332.0" stroke-width="0.88"/>
<polyline points="107.4,332.0 105.7,335.0 104.0,338.0 102.4,341.0 100.6,344.0" stroke-width="0.87"/>
<polyline points="100.6,344.0 98.9,347.0 97.1,350.0 95.3,353.0 93.4,356.0" stroke-width="0.86"/>
<polyline points="93.4,356.0 91.5,359.0 89.6,362.0 87.7,366.0" stroke-width="0.86"/>
<polyline points="215.0,80.0 213.3,83.0 211.5,86.0 209.9,89.0 208.3,92.0" stroke-width="0.87"/>
<polyline points="208.3,92.0 206.7,95.0 205.3,98.0 203.8,101.0 202.5,104.0" stroke-width="0.90"/>
<polyline points="202.5,104.0 201.2,107.0 200.0,110.0 198.8,113.0 197.7,116.0" stroke-width="0.93"/>
<polyline points="197.7,116.0 196.6,119.0 195.6,122.0 194.6,125.0 193.7,128.0" stroke-width="0.95"/>
<polyline points="193.7,128.0 192.8,131.0 191.9,134.0 191.1,137.0 190.3,140.0" stroke-width="0.96"/>
<polyline points="190.3,140.0 189.5,143.0 188.8,146.0 188.1,149.0 187.4,152.0" stroke-width="0.97"/>
<polyline points="187.4,152.0 186.8,155.0 186.2,158.0 185.5,161.0 184.9,164.0" stroke-width="0.98"/>
<polyline points="184.9,164.0 184.3,167.0 183.6,170.0 182.9,173.0 182.2,176.0" stroke-width="0.98"/>
<polyline points="182.2,176.0 181.5,179.0 180.9,182.0 180.2,185.0 179.5,188.0" stroke-width="0.98"/>
<polyline points="179.5,188.0 178.7,191.0 178.0,194.0 177.2,197.0 176.4,200.0" stroke-width="0.97"/>
<polyline points="176.4,200.0 175.5,203.0 174.6,206.0 173.7,209.0 172.8,212.0" stroke-width="0.96"/>
<polyline points="172.8,212.0 171.8,215.0 170.8,218.0 169.7,221.0 168.6,224.0" stroke-width="0.94"/>
<polyline points="168.6,224.0 167.5,227.0 166.3,230.0 165.0,233.0 163.7,236.0" stroke-width="0.93"/>
<polyline points="163.7,236.0 162.3,239.0 160.8,242.0 159.3,245.0 157.7,248.0" stroke-width="0.89"/>
<polyline points="157.7,248.0 156.1,251.0 154.5,254.0 152.8,257.0 151.2,260.0" stroke-width="0.88"/>
<polyline points="151.2,260.0 149.5,263.0 147.7,266.0 145.9,269.0 144.1,272.0" stroke-width="0.86"/>
<polyline points="144.1,272.0 142.2,275.0 140.3,278.0 138.4,281.0 136.6,284.0" stroke-width="0.85"/>
<polyline points="136.6,284.0 134.7,287.0 132.9,290.0 131.2,293.0 129.4,296.0" stroke-width="0.86"/>
<polyline points="129.4,296.0 127.7,299.0 126.0,302.0 124.3,305.0 122.6,308.0" stroke-width="0.87"/>
<polyline points="122.6,308.0 120.9,311.0 119.2,314.0 117.5,317.0 115.8,320.0" stroke-width="0.87"/>
<polyline points="115.8,320.0 114.0,323.0 112.3,326.0 110.6,329.0 108.9,332.0" stroke-width="0.87"/>
<polyline points="108.9,332.0 107.1,335.0 105.4,338.0 103.6,341.0 101.7,344.0" stroke-width="0.86"/>
<polyline points="101.7,344.0 99.9,347.0 98.0,350.0 96.1,353.0 94.1,356.0" stroke-width="0.84"/>
<polyline points="94.1,356.0 92.1,359.0 90.1,362.0 88.1,366.0" stroke-width="0.85"/>
<polyline points="218.0,80.0 216.3,83.0 214.6,86.0 213.0,89.0 211.4,92.0" stroke-width="0.88"/>
<polyline points="211.4,92.0 209.9,95.0 208.4,98.0 207.0,101.0 205.7,104.0" stroke-width="0.90"/>
<polyline points="205.7,104.0 204.4,107.0 203.2,110.0 202.1,113.0 200.9,116.0" stroke-width="0.93"/>
<polyline points="200.9,116.0 199.9,119.0 198.8,122.0 197.9,125.0 196.9,128.0" stroke-width="0.95"/>
<polyline points="196.9,128.0 196.0,131.0 195.2,134.0 194.4,137.0 193.6,140.0" stroke-width="0.96"/>
<polyline points="193.6,140.0 192.9,143.0 192.3,146.0 191.7,149.0 191.1,152.0" stroke-width="0.98"/>
<polyline points="191.1,152.0 190.6,155.0 190.0,158.0 189.5,161.0 188.9,164.0" stroke-width="0.98"/>
<polyline points="188.9,164.0 188.3,167.0 187.7,170.0 187.1,173.0 186.4,176.0" stroke-width="0.98"/>
<polyline points="186.4,176.0 185.8,179.0 185.1,182.0 184.4,185.0 183.7,188.0" stroke-width="0.98"/>
<polyline points="183.7,188.0 183.0,191.0 182.2,194.0 181.4,197.0 180.6,200.0" stroke-width="0.97"/>
<polyline points="180.6,200.0 179.7,203.0 178.7,206.0 177.7,209.0 176.6,212.0" stroke-width="0.95"/>
<polyline points="176.6,212.0 175.5,215.0 174.4,218.0 173.2,221.0 172.0,224.0" stroke-width="0.93"/>
<polyline points="172.0,224.0 170.7,227.0 169.4,230.0 168.1,233.0 166.7,236.0" stroke-width="0.91"/>
<polyline points="166.7,236.0 165.3,239.0 163.8,242.0 162.2,245.0 160.6,248.0" stroke-width="0.89"/>
<polyline points="160.6,248.0 159.0,251.0 157.4,254.0 155.8,257.0 154.1,260.0" stroke-width="0.88"/>
<polyline points="154.1,260.0 152.4,263.0 150.7,266.0 148.9,269.0 147.1,272.0" stroke-width="0.86"/>
<polyline points="147.1,272.0 145.3,275.0 143.5,278.0 141.6,281.0 139.8,284.0" stroke-width="0.85"/>
<polyline points="139.8,284.0 137.9,287.0 136.1,290.0 134.3,293.0 132.5,296.0" stroke-width="0.85"/>
<polyline points="132.5,296.0 130.7,299.0 129.0,302.0 127.2,305.0 125.4,308.0" stroke-width="0.86"/>
<polyline points="125.4,308.0 123.6,311.0 121.8,314.0 119.9,317.0 118.1,320.0" stroke-width="0.85"/>
<polyline points="118.1,320.0 116.2,323.0 114.3,326.0 112.4,329.0 110.5,332.0" stroke-width="0.84"/>
<polyline points="110.5,332.0 108.6,335.0 106.6,338.0 104.7,341.0 102.7,344.0" stroke-width="0.84"/>
<polyline points="102.7,344.0 100.7,347.0 98.6,350.0 96.6,353.0 94.5,356.0" stroke-width="0.83"/>
<polyline points="94.5,356.0 92.4,359.0 90.3,362.0 88.1,366.0" stroke-width="0.84"/>
<polyline points="219.5,80.0 217.9,83.0 216.4,86.0 214.8,89.0 213.4,92.0" stroke-width="0.89"/>
<polyline points="213.4,92.0 212.0,95.0 210.6,98.0 209.3,101.0 208.1,104.0" stroke-width="0.91"/>
<polyline points="208.1,104.0 206.9,107.0 205.8,110.0 204.7,113.0 203.6,116.0" stroke-width="0.94"/>
<polyline points="203.6,116.0 202.6,119.0 201.6,122.0 200.6,125.0 199.7,128.0" stroke-width="0.95"/>
<polyline points="199.7,128.0 198.9,131.0 198.1,134.0 197.4,137.0 196.7,140.0" stroke-width="0.97"/>
<polyline points="196.7,140.0 196.2,143.0 195.7,146.0 195.2,149.0 194.8,152.0" stroke-width="0.99"/>
<polyline points="194.8,152.0 194.4,155.0 194.0,158.0 193.5,161.0 193.1,164.0" stroke-width="0.99"/>
<polyline points="193.1,164.0 192.7,167.0 192.2,170.0 191.7,173.0 191.1,176.0" stroke-width="0.99"/>
<polyline points="191.1,176.0 190.6,179.0 190.1,182.0 189.5,185.0 188.9,188.0" stroke-width="0.98"/>
<polyline points="188.9,188.0 188.3,191.0 187.6,194.0 186.9,197.0 186.1,200.0" stroke-width="0.97"/>
<polyline points="186.1,200.0 185.2,203.0 184.2,206.0 183.1,209.0 182.0,212.0" stroke-width="0.95"/>
<polyline points="182.0,212.0 180.7,215.0 179.4,218.0 178.1,221.0 176.7,224.0" stroke-width="0.91"/>
<polyline points="176.7,224.0 175.3,227.0 173.9,230.0 172.4,233.0 170.9,236.0" stroke-width="0.90"/>
<polyline points="170.9,236.0 169.2,239.0 167.6,242.0 165.9,245.0 164.1,248.0" stroke-width="0.87"/>
<polyline points="164.1,248.0 162.4,251.0 160.6,254.0 158.8,257.0 157.1,260.0" stroke-width="0.86"/>
<polyline points="157.1,260.0 155.3,263.0 153.6,266.0 151.8,269.0 150.0,272.0" stroke-width="0.86"/>
<polyline points="150.0,272.0 148.2,275.0 146.4,278.0 144.5,281.0 142.7,284.0" stroke-width="0.85"/>
<polyline points="142.7,284.0 140.9,287.0 139.1,290.0 137.3,293.0 135.5,296.0" stroke-width="0.86"/>
<polyline points="135.5,296.0 133.8,299.0 132.0,302.0 130.3,305.0 128.5,308.0" stroke-width="0.86"/>
<polyline points="128.5,308.0 126.7,311.0 124.9,314.0 123.0,317.0 121.1,320.0" stroke-width="0.85"/>
<polyline points="121.1,320.0 119.2,323.0 117.2,326.0 115.2,329.0 113.2,332.0" stroke-width="0.84"/>
<polyline points="113.2,332.0 111.1,335.0 109.0,338.0 106.9,341.0 104.8,344.0" stroke-width="0.82"/>
<polyline points="104.8,344.0 102.6,347.0 100.3,350.0 98.1,353.0 95.7,356.0" stroke-width="0.80"/>
<polyline points="95.7,356.0 93.4,359.0 91.0,362.0 88.6,366.0" stroke-width="0.81"/>
<polyline points="234.0,80.0 231.6,83.0 229.3,86.0 227.1,89.0 225.0,92.0" stroke-width="0.80"/>
<polyline points="225.0,92.0 222.9,95.0 221.0,98.0 219.2,101.0 217.4,104.0" stroke-width="0.84"/>
<polyline points="217.4,104.0 215.8,107.0 214.3,110.0 212.9,113.0 211.4,116.0" stroke-width="0.89"/>
<polyline points="211.4,116.0 210.1,119.0 208.7,122.0 207.5,125.0 206.3,128.0" stroke-width="0.92"/>
<polyline points="206.3,128.0 205.3,131.0 204.4,134.0 203.6,137.0 203.0,140.0" stroke-width="0.96"/>
<polyline points="203.0,140.0 202.6,143.0 202.2,146.0 201.8,149.0 201.5,152.0" stroke-width="0.99"/>
<polyline points="201.5,152.0 201.2,155.0 201.0,158.0 200.7,161.0 200.4,164.0" stroke-width="1.00"/>
<polyline points="200.4,164.0 200.1,167.0 199.7,170.0 199.3,173.0 199.0,176.0" stroke-width="0.99"/>
<polyline points="199.0,176.0 198.6,179.0 198.2,182.0 197.7,185.0 197.3,188.0" stroke-width="0.99"/>
<polyline points="197.3,188.0 196.8,191.0 196.2,194.0 195.6,197.0 194.9,200.0" stroke-width="0.98"/>
<polyline points="194.9,200.0 194.1,203.0 193.1,206.0 191.9,209.0 190.6,212.0" stroke-width="0.94"/>
<polyline points="190.6,212.0 189.1,215.0 187.6,218.0 186.0,221.0 184.4,224.0" stroke-width="0.89"/>
<polyline points="184.4,224.0 182.8,227.0 181.1,230.0 179.5,233.0 177.7,236.0" stroke-width="0.87"/>
<polyline points="177.7,236.0 175.8,239.0 173.9,242.0 171.9,245.0 169.9,248.0" stroke-width="0.84"/>
<polyline points="169.9,248.0 167.8,251.0 165.8,254.0 163.8,257.0 161.8,260.0" stroke-width="0.83"/>
<polyline points="161.8,260.0 159.9,263.0 157.9,266.0 156.0,269.0 154.0,272.0" stroke-width="0.84"/>
<polyline points="154.0,272.0 152.1,275.0 150.1,278.0 148.2,281.0 146.2,284.0" stroke-width="0.84"/>
<polyline points="146.2,284.0 144.3,287.0 142.3,290.0 140.4,293.0 138.5,296.0" stroke-width="0.84"/>
<polyline points="138.5,296.0 136.6,299.0 134.7,302.0 132.8,305.0 130.9,308.0" stroke-width="0.84"/>
<polyline points="130.9,308.0 129.0,311.0 127.0,314.0 125.0,317.0 123.0,320.0" stroke-width="0.84"/>
<polyline points="123.0,320.0 120.9,323.0 118.8,326.0 116.6,329.0 114.4,332.0" stroke-width="0.81"/>
<polyline points="114.4,332.0 112.2,335.0 110.0,338.0 107.7,341.0 105.4,344.0" stroke-width="0.80"/>
<polyline points="105.4,344.0 103.2,347.0 100.9,350.0 98.5,353.0 96.2,356.0" stroke-width="0.79"/>
<polyline points="96.2,356.0 93.8,359.0 91.4,362.0 89.0,366.0" stroke-width="0.81"/>
<polyline points="239.5,80.0 237.3,83.0 235.2,86.0 233.2,89.0 231.2,92.0" stroke-width="0.82"/>
<polyline points="231.2,92.0 229.4,95.0 227.7,98.0 226.1,101.0 224.7,104.0" stroke-width="0.88"/>
<polyline points="224.7,104.0 223.5,107.0 222.4,110.0 221.4,113.0 220.5,116.0" stroke-width="0.94"/>
<polyline points="220.5,116.0 219.6,119.0 218.8,122.0 218.0,125.0 217.3,128.0" stroke-width="0.97"/>
<polyline points="217.3,128.0 216.7,131.0 216.2,134.0 215.7,137.0 215.2,140.0" stroke-width="0.98"/>
<polyline points="215.2,140.0 214.9,143.0 214.6,146.0 214.3,149.0 214.1,152.0" stroke-width="1.00"/>
<polyline points="214.1,152.0 213.9,155.0 213.7,158.0 213.5,161.0 213.2,164.0" stroke-width="1.00"/>
<polyline points="213.2,164.0 212.9,167.0 212.5,170.0 212.0,173.0 211.4,176.0" stroke-width="0.99"/>
<polyline points="211.4,176.0 210.6,179.0 209.7,182.0 208.8,185.0 207.7,188.0" stroke-width="0.96"/>
<polyline points="207.7,188.0 206.6,191.0 205.4,194.0 204.2,197.0 203.0,200.0" stroke-width="0.93"/>
<polyline points="203.0,200.0 201.7,203.0 200.2,206.0 198.6,209.0 196.8,212.0" stroke-width="0.89"/>
<polyline points="196.8,212.0 195.0,215.0 193.1,218.0 191.2,221.0 189.2,224.0" stroke-width="0.84"/>
<polyline points="189.2,224.0 187.2,227.0 185.3,230.0 183.4,233.0 181.4,236.0" stroke-width="0.84"/>
<polyline points="181.4,236.0 179.4,239.0 177.3,242.0 175.3,245.0 173.2,248.0" stroke-width="0.83"/>
<polyline points="173.2,248.0 171.1,251.0 169.0,254.0 167.0,257.0 164.9,260.0" stroke-width="0.82"/>
<polyline points="164.9,260.0 162.9,263.0 160.9,266.0 158.9,269.0 157.0,272.0" stroke-width="0.84"/>
<polyline points="157.0,272.0 155.0,275.0 153.0,278.0 151.0,281.0 149.1,284.0" stroke-width="0.84"/>
<polyline points="149.1,284.0 147.1,287.0 145.2,290.0 143.2,293.0 141.3,296.0" stroke-width="0.84"/>
<polyline points="141.3,296.0 139.4,299.0 137.6,302.0 135.7,305.0 133.8,308.0" stroke-width="0.85"/>
<polyline points="133.8,308.0 131.9,311.0 129.9,314.0 127.9,317.0 125.9,320.0" stroke-width="0.84"/>
<polyline points="125.9,320.0 123.8,323.0 121.7,326.0 119.6,329.0 117.4,332.0" stroke-width="0.82"/>
<polyline points="117.4,332.0 115.1,335.0 112.9,338.0 110.6,341.0 108.3,344.0" stroke-width="0.80"/>
<polyline points="108.3,344.0 105.9,347.0 103.5,350.0 101.1,353.0 98.6,356.0" stroke-width="0.78"/>
<polyline points="98.6,356.0 96.1,359.0 93.6,362.0 91.0,366.0" stroke-width="0.79"/>
<polyline points="255.3,80.0 252.9,83.0 250.5,86.0 248.2,89.0 246.0,92.0" stroke-width="0.79"/>
<polyline points="246.0,92.0 243.9,95.0 242.0,98.0 240.1,101.0 238.4,104.0" stroke-width="0.84"/>
<polyline points="238.4,104.0 236.8,107.0 235.4,110.0 234.1,113.0 232.9,116.0" stroke-width="0.91"/>
<polyline points="232.9,116.0 231.7,119.0 230.6,122.0 229.5,125.0 228.5,128.0" stroke-width="0.94"/>
<polyline points="228.5,128.0 227.6,131.0 226.8,134.0 226.0,137.0 225.2,140.0" stroke-width="0.96"/>
<polyline points="225.2,140.0 224.5,143.0 223.9,146.0 223.4,149.0 222.9,152.0" stroke-width="0.98"/>
<polyline points="222.9,152.0 222.4,155.0 221.9,158.0 221.4,161.0 220.9,164.0" stroke-width="0.99"/>
<polyline points="220.9,164.0 220.3,167.0 219.6,170.0 218.8,173.0 217.9,176.0" stroke-width="0.97"/>
<polyline points="217.9,176.0 216.9,179.0 215.9,182.0 214.8,185.0 213.6,188.0" stroke-width="0.94"/>
<polyline points="213.6,188.0 212.4,191.0 211.1,194.0 209.8,197.0 208.4,200.0" stroke-width="0.92"/>
<polyline points="208.4,200.0 207.0,203.0 205.4,206.0 203.7,209.0 201.9,212.0" stroke-width="0.88"/>
<polyline points="201.9,212.0 200.1,215.0 198.2,218.0 196.2,221.0 194.2,224.0" stroke-width="0.84"/>
<polyline points="194.2,224.0 192.3,227.0 190.3,230.0 188.3,233.0 186.3,236.0" stroke-width="0.84"/>
<polyline points="186.3,236.0 184.2,239.0 182.1,242.0 180.0,245.0 177.8,248.0" stroke-width="0.82"/>
<polyline points="177.8,248.0 175.7,251.0 173.5,254.0 171.4,257.0 169.3,260.0" stroke-width="0.82"/>
<polyline points="169.3,260.0 167.2,263.0 165.1,266.0 163.0,269.0 160.9,272.0" stroke-width="0.82"/>
<polyline points="160.9,272.0 158.8,275.0 156.7,278.0 154.6,281.0 152.6,284.0" stroke-width="0.82"/>
<polyline points="152.6,284.0 150.5,287.0 148.4,290.0 146.4,293.0 144.4,296.0" stroke-width="0.83"/>
<polyline points="144.4,296.0 142.4,299.0 140.4,302.0 138.4,305.0 136.4,308.0" stroke-width="0.83"/>
<polyline points="136.4,308.0 134.4,311.0 132.4,314.0 130.3,317.0 128.1,320.0" stroke-width="0.82"/>
<polyline points="128.1,320.0 126.0,323.0 123.8,326.0 121.5,329.0 119.3,332.0" stroke-width="0.81"/>
<polyline points="119.3,332.0 117.0,335.0 114.6,338.0 112.3,341.0 109.9,344.0" stroke-width="0.79"/>
<polyline points="109.9,344.0 107.5,347.0 105.0,350.0 102.5,353.0 99.9,356.0" stroke-width="0.77"/>
<polyline points="99.9,356.0 97.3,359.0 94.7,362.0 92.0,366.0" stroke-width="0.78"/>
<polyline points="275.5,80.0 274.3,83.0 273.0,86.0 271.6,89.0 270.1,92.0" stroke-width="0.91"/>
<polyline points="270.1,92.0 268.5,95.0 266.6,98.0 264.4,101.0 262.2,104.0" stroke-width="0.83"/>
<polyline points="262.2,104.0 260.1,107.0 258.2,110.0 256.6,113.0 255.1,116.0" stroke-width="0.86"/>
<polyline points="255.1,116.0 253.7,119.0 252.4,122.0 251.1,125.0 249.9,128.0" stroke-width="0.92"/>
<polyline points="249.9,128.0 248.7,131.0 247.4,134.0 246.1,137.0 244.8,140.0" stroke-width="0.92"/>
<polyline points="244.8,140.0 243.4,143.0 241.9,146.0 240.5,149.0 239.1,152.0" stroke-width="0.90"/>
<polyline points="239.1,152.0 237.6,155.0 236.1,158.0 234.7,161.0 233.2,164.0" stroke-width="0.90"/>
<polyline points="233.2,164.0 231.8,167.0 230.3,170.0 228.8,173.0 227.4,176.0" stroke-width="0.90"/>
<polyline points="227.4,176.0 225.9,179.0 224.4,182.0 222.9,185.0 221.4,188.0" stroke-width="0.89"/>
<polyline points="221.4,188.0 219.9,191.0 218.5,194.0 217.1,197.0 215.7,200.0" stroke-width="0.90"/>
<polyline points="215.7,200.0 214.3,203.0 213.0,206.0 211.8,209.0 210.5,212.0" stroke-width="0.92"/>
<polyline points="210.5,212.0 209.3,215.0 208.0,218.0 206.7,221.0 205.4,224.0" stroke-width="0.92"/>
<polyline points="205.4,224.0 204.0,227.0 202.5,230.0 200.9,233.0 199.1,236.0" stroke-width="0.89"/>
<polyline points="199.1,236.0 197.2,239.0 195.4,242.0 193.8,245.0 192.3,248.0" stroke-width="0.87"/>
<polyline points="192.3,248.0 191.0,251.0 189.8,254.0 188.5,257.0 186.9,260.0" stroke-width="0.91"/>
<polyline points="186.9,260.0 185.2,263.0 183.2,266.0 181.2,269.0 178.9,272.0" stroke-width="0.83"/>
<polyline points="178.9,272.0 176.6,275.0 174.0,278.0 171.3,281.0 168.3,284.0" stroke-width="0.75"/>
<polyline points="168.3,284.0 165.4,287.0 162.4,290.0 159.6,293.0 156.6,296.0" stroke-width="0.72"/>
<polyline points="156.6,296.0 153.7,299.0 150.8,302.0 148.0,305.0 145.2,308.0" stroke-width="0.73"/>
<polyline points="145.2,308.0 142.4,311.0 139.7,314.0 137.0,317.0 134.3,320.0" stroke-width="0.74"/>
<polyline points="134.3,320.0 131.6,323.0 129.1,326.0 126.5,329.0 123.7,332.0" stroke-width="0.75"/>
<polyline points="123.7,332.0 120.8,335.0 117.3,338.0 113.5,341.0 109.8,344.0" stroke-width="0.76"/>
<polyline points="109.8,344.0 106.7,347.0 103.7,350.0 101.0,353.0 98.5,356.0" stroke-width="0.73"/>
<polyline points="98.5,356.0 96.2,359.0 94.0,362.0 92.0,366.0" stroke-width="0.83"/>
<polyline points="279.0,80.0 277.6,83.0 276.1,86.0 274.5,89.0 272.9,92.0" stroke-width="0.89"/>
<polyline points="272.9,92.0 271.2,95.0 269.4,98.0 267.4,101.0 265.4,104.0" stroke-width="0.85"/>
<polyline points="265.4,104.0 263.5,107.0 261.9,110.0 260.6,113.0 259.4,116.0" stroke-width="0.89"/>
<polyline points="259.4,116.0 258.3,119.0 257.3,122.0 256.3,125.0 255.3,128.0" stroke-width="0.95"/>
<polyline points="255.3,128.0 254.4,131.0 253.4,134.0 252.4,137.0 251.3,140.0" stroke-width="0.95"/>
<polyline points="251.3,140.0 250.2,143.0 249.0,146.0 247.8,149.0 246.6,152.0" stroke-width="0.93"/>
<polyline points="246.6,152.0 245.4,155.0 244.2,158.0 242.9,161.0 241.6,164.0" stroke-width="0.92"/>
<polyline points="241.6,164.0 240.3,167.0 239.0,170.0 237.6,173.0 236.2,176.0" stroke-width="0.91"/>
<polyline points="236.2,176.0 234.7,179.0 233.2,182.0 231.7,185.0 230.1,188.0" stroke-width="0.89"/>
<polyline points="230.1,188.0 228.6,191.0 227.1,194.0 225.6,197.0 224.1,200.0" stroke-width="0.89"/>
<polyline points="224.1,200.0 222.7,203.0 221.4,206.0 220.0,209.0 218.7,212.0" stroke-width="0.91"/>
<polyline points="218.7,212.0 217.4,215.0 216.0,218.0 214.7,221.0 213.3,224.0" stroke-width="0.91"/>
<polyline points="213.3,224.0 211.9,227.0 210.4,230.0 208.9,233.0 207.2,236.0" stroke-width="0.89"/>
<polyline points="207.2,236.0 205.5,239.0 203.9,242.0 202.6,245.0 201.4,248.0" stroke-width="0.90"/>
<polyline points="201.4,248.0 200.5,251.0 199.5,254.0 198.5,257.0 197.3,260.0" stroke-width="0.95"/>
<polyline points="197.3,260.0 195.7,263.0 193.9,266.0 191.8,269.0 189.5,272.0" stroke-width="0.84"/>
<polyline points="189.5,272.0 187.1,275.0 184.3,278.0 181.1,281.0 177.7,284.0" stroke-width="0.75"/>
<polyline points="177.7,284.0 174.1,287.0 170.6,290.0 167.1,293.0 163.5,296.0" stroke-width="0.76"/>
<polyline points="163.5,296.0 159.8,299.0 156.2,302.0 152.7,305.0 149.3,308.0" stroke-width="0.76"/>
<polyline points="149.3,308.0 145.9,311.0 142.6,314.0 139.4,317.0 136.3,320.0" stroke-width="0.73"/>
<polyline points="136.3,320.0 133.3,323.0 130.4,326.0 127.6,329.0 124.7,332.0" stroke-width="0.72"/>
<polyline points="124.7,332.0 121.5,335.0 117.9,338.0 113.9,341.0 110.0,344.0" stroke-width="0.77"/>
<polyline points="110.0,344.0 106.8,347.0 103.8,350.0 101.0,353.0 98.5,356.0" stroke-width="0.73"/>
<polyline points="98.5,356.0 96.2,359.0 94.1,362.0 92.2,366.0" stroke-width="0.84"/>
<polyline points="280.2,80.0 278.9,83.0 277.5,86.0 276.1,89.0 274.8,92.0" stroke-width="0.91"/>
<polyline points="274.8,92.0 273.4,95.0 272.0,98.0 270.5,101.0 269.0,104.0" stroke-width="0.90"/>
<polyline points="269.0,104.0 267.6,107.0 266.4,110.0 265.5,113.0 264.6,116.0" stroke-width="0.94"/>
<polyline points="264.6,116.0 263.8,119.0 263.1,122.0 262.4,125.0 261.8,128.0" stroke-width="0.97"/>
<polyline points="261.8,128.0 261.1,131.0 260.4,134.0 259.6,137.0 258.7,140.0" stroke-width="0.97"/>
<polyline points="258.7,140.0 257.8,143.0 256.9,146.0 255.9,149.0 254.8,152.0" stroke-width="0.95"/>
<polyline points="254.8,152.0 253.8,155.0 252.7,158.0 251.6,161.0 250.4,164.0" stroke-width="0.94"/>
<polyline points="250.4,164.0 249.2,167.0 248.0,170.0 246.7,173.0 245.3,176.0" stroke-width="0.92"/>
<polyline points="245.3,176.0 243.9,179.0 242.5,182.0 241.0,185.0 239.4,188.0" stroke-width="0.90"/>
<polyline points="239.4,188.0 237.9,191.0 236.4,194.0 234.9,197.0 233.4,200.0" stroke-width="0.89"/>
<polyline points="233.4,200.0 232.0,203.0 230.7,206.0 229.3,209.0 228.0,212.0" stroke-width="0.91"/>
<polyline points="228.0,212.0 226.6,215.0 225.3,218.0 223.9,221.0 222.4,224.0" stroke-width="0.91"/>
<polyline points="222.4,224.0 220.9,227.0 219.2,230.0 217.4,233.0 215.4,236.0" stroke-width="0.86"/>
<polyline points="215.4,236.0 213.3,239.0 211.3,242.0 209.4,245.0 207.8,248.0" stroke-width="0.84"/>
<polyline points="207.8,248.0 206.4,251.0 205.0,254.0 203.5,257.0 201.8,260.0" stroke-width="0.89"/>
<polyline points="201.8,260.0 200.0,263.0 198.0,266.0 195.8,269.0 193.5,272.0" stroke-width="0.82"/>
<polyline points="193.5,272.0 191.0,275.0 188.2,278.0 185.1,281.0 181.8,284.0" stroke-width="0.74"/>
<polyline points="181.8,284.0 178.4,287.0 174.9,290.0 171.3,293.0 167.6,296.0" stroke-width="0.76"/>
<polyline points="167.6,296.0 163.8,299.0 160.0,302.0 156.2,305.0 152.6,308.0" stroke-width="0.78"/>
<polyline points="152.6,308.0 148.9,311.0 145.3,314.0 141.7,317.0 138.3,320.0" stroke-width="0.77"/>
<polyline points="138.3,320.0 135.1,323.0 132.1,326.0 129.2,329.0 126.1,332.0" stroke-width="0.72"/>
<polyline points="126.1,332.0 122.9,335.0 119.2,338.0 115.2,341.0 111.5,344.0" stroke-width="0.77"/>
<polyline points="111.5,344.0 108.2,347.0 105.2,350.0 102.4,353.0 99.7,356.0" stroke-width="0.73"/>
<polyline points="99.7,356.0 97.2,359.0 94.8,362.0 92.5,366.0" stroke-width="0.81"/>
<polyline points="287.0,80.0 285.6,83.0 284.2,86.0 282.7,89.0 281.3,92.0" stroke-width="0.90"/>
<polyline points="281.3,92.0 279.9,95.0 278.4,98.0 276.9,101.0 275.4,104.0" stroke-width="0.90"/>
<polyline points="275.4,104.0 274.0,107.0 272.8,110.0 271.8,113.0 270.9,116.0" stroke-width="0.94"/>
<polyline points="270.9,116.0 270.1,119.0 269.3,122.0 268.6,125.0 267.8,128.0" stroke-width="0.97"/>
<polyline points="267.8,128.0 267.1,131.0 266.3,134.0 265.5,137.0 264.6,140.0" stroke-width="0.97"/>
<polyline points="264.6,140.0 263.6,143.0 262.6,146.0 261.6,149.0 260.5,152.0" stroke-width="0.95"/>
<polyline points="260.5,152.0 259.4,155.0 258.2,158.0 257.0,161.0 255.8,164.0" stroke-width="0.93"/>
<polyline points="255.8,164.0 254.6,167.0 253.3,170.0 252.0,173.0 250.6,176.0" stroke-width="0.92"/>
<polyline points="250.6,176.0 249.2,179.0 247.7,182.0 246.2,185.0 244.7,188.0" stroke-width="0.90"/>
<polyline points="244.7,188.0 243.2,191.0 241.6,194.0 240.2,197.0 238.7,200.0" stroke-width="0.89"/>
<polyline points="238.7,200.0 237.3,203.0 235.9,206.0 234.6,209.0 233.3,212.0" stroke-width="0.91"/>
<polyline points="233.3,212.0 232.0,215.0 230.6,218.0 229.2,221.0 227.8,224.0" stroke-width="0.91"/>
<polyline points="227.8,224.0 226.3,227.0 224.7,230.0 222.9,233.0 221.0,236.0" stroke-width="0.87"/>
<polyline points="221.0,236.0 219.0,239.0 217.1,242.0 215.2,245.0 213.6,248.0" stroke-width="0.85"/>
<polyline points="213.6,248.0 212.2,251.0 210.7,254.0 209.1,257.0 207.4,260.0" stroke-width="0.89"/>
<polyline points="207.4,260.0 205.3,263.0 203.0,266.0 200.5,269.0 197.9,272.0" stroke-width="0.78"/>
<polyline points="197.9,272.0 195.1,275.0 192.1,278.0 188.8,281.0 185.3,284.0" stroke-width="0.73"/>
<polyline points="185.3,284.0 181.7,287.0 178.1,290.0 174.5,293.0 170.8,296.0" stroke-width="0.77"/>
<polyline points="170.8,296.0 167.1,299.0 163.4,302.0 159.8,305.0 156.2,308.0" stroke-width="0.77"/>
<polyline points="156.2,308.0 152.6,311.0 149.1,314.0 145.6,317.0 142.1,320.0" stroke-width="0.76"/>
<polyline points="142.1,320.0 138.9,323.0 135.7,326.0 132.6,329.0 129.3,332.0" stroke-width="0.73"/>
<polyline points="129.3,332.0 125.9,335.0 121.9,338.0 117.6,341.0 113.5,344.0" stroke-width="0.79"/>
<polyline points="113.5,344.0 109.9,347.0 106.7,350.0 103.6,353.0 100.7,356.0" stroke-width="0.73"/>
<polyline points="100.7,356.0 97.9,359.0 95.3,362.0 92.8,366.0" stroke-width="0.78"/>
<polyline points="293.5,80.0 292.1,83.0 290.7,86.0 289.3,89.0 287.9,92.0" stroke-width="0.91"/>
<polyline points="287.9,92.0 286.4,95.0 284.9,98.0 283.2,101.0 281.5,104.0" stroke-width="0.88"/>
<polyline points="281.5,104.0 280.0,107.0 278.8,110.0 277.7,113.0 276.8,116.0" stroke-width="0.93"/>
<polyline points="276.8,116.0 276.0,119.0 275.2,122.0 274.5,125.0 273.8,128.0" stroke-width="0.97"/>
<polyline points="273.8,128.0 273.1,131.0 272.3,134.0 271.5,137.0 270.7,140.0" stroke-width="0.97"/>
<polyline points="270.7,140.0 269.8,143.0 269.0,146.0 268.1,149.0 267.2,152.0" stroke-width="0.96"/>
<polyline points="267.2,152.0 266.2,155.0 265.3,158.0 264.3,161.0 263.3,164.0" stroke-width="0.95"/>
<polyline points="263.3,164.0 262.2,167.0 261.1,170.0 259.9,173.0 258.7,176.0" stroke-width="0.93"/>
<polyline points="258.7,176.0 257.4,179.0 256.0,182.0 254.6,185.0 253.2,188.0" stroke-width="0.91"/>
<polyline points="253.2,188.0 251.8,191.0 250.3,194.0 248.9,197.0 247.4,200.0" stroke-width="0.90"/>
<polyline points="247.4,200.0 246.0,203.0 244.6,206.0 243.2,209.0 241.8,212.0" stroke-width="0.91"/>
<polyline points="241.8,212.0 240.4,215.0 238.9,218.0 237.4,221.0 235.8,224.0" stroke-width="0.89"/>
<polyline points="235.8,224.0 234.1,227.0 232.4,230.0 230.4,233.0 228.2,236.0" stroke-width="0.84"/>
<polyline points="228.2,236.0 225.8,239.0 223.5,242.0 221.4,245.0 219.6,248.0" stroke-width="0.81"/>
<polyline points="219.6,248.0 217.9,251.0 216.2,254.0 214.5,257.0 212.5,260.0" stroke-width="0.86"/>
<polyline points="212.5,260.0 210.3,263.0 207.9,266.0 205.3,269.0 202.6,272.0" stroke-width="0.77"/>
<polyline points="202.6,272.0 199.7,275.0 196.6,278.0 193.2,281.0 189.6,284.0" stroke-width="0.74"/>
<polyline points="189.6,284.0 185.9,287.0 182.2,290.0 178.4,293.0 174.5,296.0" stroke-width="0.78"/>
<polyline points="174.5,296.0 170.5,299.0 166.6,302.0 162.7,305.0 158.9,308.0" stroke-width="0.79"/>
<polyline points="158.9,308.0 155.1,311.0 151.4,314.0 147.7,317.0 144.1,320.0" stroke-width="0.78"/>
<polyline points="144.1,320.0 140.8,323.0 137.6,326.0 134.5,329.0 131.2,332.0" stroke-width="0.73"/>
<polyline points="131.2,332.0 127.7,335.0 123.6,338.0 119.2,341.0 114.9,344.0" stroke-width="0.80"/>
<polyline points="114.9,344.0 111.1,347.0 107.6,350.0 104.3,353.0 101.2,356.0" stroke-width="0.75"/>
<polyline points="101.2,356.0 98.3,359.0 95.6,362.0 93.0,366.0" stroke-width="0.77"/>
<polyline points="310.0,80.0 309.0,83.0 308.0,86.0 306.8,89.0 305.6,92.0" stroke-width="0.94"/>
<polyline points="305.6,92.0 304.3,95.0 302.8,98.0 301.2,101.0 299.4,104.0" stroke-width="0.89"/>
<polyline points="299.4,104.0 297.7,107.0 296.3,110.0 295.1,113.0 293.9,116.0" stroke-width="0.91"/>
<polyline points="293.9,116.0 292.9,119.0 291.8,122.0 290.9,125.0 289.9,128.0" stroke-width="0.95"/>
<polyline points="289.9,128.0 289.0,131.0 288.0,134.0 287.0,137.0 285.9,140.0" stroke-width="0.95"/>
<polyline points="285.9,140.0 284.8,143.0 283.7,146.0 282.6,149.0 281.5,152.0" stroke-width="0.94"/>
<polyline points="281.5,152.0 280.3,155.0 279.1,158.0 277.9,161.0 276.7,164.0" stroke-width="0.93"/>
<polyline points="276.7,164.0 275.4,167.0 274.1,170.0 272.8,173.0 271.4,176.0" stroke-width="0.91"/>
<polyline points="271.4,176.0 270.0,179.0 268.5,182.0 267.0,185.0 265.5,188.0" stroke-width="0.90"/>
<polyline points="265.5,188.0 264.0,191.0 262.4,194.0 260.8,197.0 259.2,200.0" stroke-width="0.89"/>
<polyline points="259.2,200.0 257.6,203.0 256.1,206.0 254.5,209.0 253.0,212.0" stroke-width="0.89"/>
<polyline points="253.0,212.0 251.3,215.0 249.7,218.0 247.9,221.0 246.1,224.0" stroke-width="0.87"/>
<polyline points="246.1,224.0 244.1,227.0 241.9,230.0 239.4,233.0 236.5,236.0" stroke-width="0.78"/>
<polyline points="236.5,236.0 233.4,239.0 230.4,242.0 227.6,245.0 225.2,248.0" stroke-width="0.73"/>
<polyline points="225.2,248.0 223.0,251.0 220.9,254.0 218.8,257.0 216.5,260.0" stroke-width="0.81"/>
<polyline points="216.5,260.0 214.1,263.0 211.6,266.0 209.1,269.0 206.4,272.0" stroke-width="0.77"/>
<polyline points="206.4,272.0 203.6,275.0 200.5,278.0 197.2,281.0 193.7,284.0" stroke-width="0.74"/>
<polyline points="193.7,284.0 190.1,287.0 186.4,290.0 182.5,293.0 178.5,296.0" stroke-width="0.78"/>
<polyline points="178.5,296.0 174.3,299.0 170.1,302.0 166.0,305.0 161.9,308.0" stroke-width="0.81"/>
<polyline points="161.9,308.0 157.7,311.0 153.5,314.0 149.5,317.0 145.6,320.0" stroke-width="0.81"/>
<polyline points="145.6,320.0 141.9,323.0 138.4,326.0 135.0,329.0 131.5,332.0" stroke-width="0.76"/>
<polyline points="131.5,332.0 127.8,335.0 123.6,338.0 119.2,341.0 115.0,344.0" stroke-width="0.81"/>
<polyline points="115.0,344.0 111.4,347.0 108.0,350.0 104.9,353.0 101.8,356.0" stroke-width="0.74"/>
<polyline points="101.8,356.0 98.8,359.0 96.0,362.0 93.2,366.0" stroke-width="0.75"/>
<polyline points="310.8,80.0 310.3,83.0 309.6,86.0 308.9,89.0 308.0,92.0" stroke-width="0.97"/>
<polyline points="308.0,92.0 307.1,95.0 306.0,98.0 304.7,101.0 303.3,104.0" stroke-width="0.93"/>
<polyline points="303.3,104.0 301.9,107.0 300.6,110.0 299.5,113.0 298.5,116.0" stroke-width="0.93"/>
<polyline points="298.5,116.0 297.5,119.0 296.6,122.0 295.6,125.0 294.7,128.0" stroke-width="0.95"/>
<polyline points="294.7,128.0 293.8,131.0 292.8,134.0 291.8,137.0 290.7,140.0" stroke-width="0.95"/>
<polyline points="290.7,140.0 289.6,143.0 288.5,146.0 287.3,149.0 286.1,152.0" stroke-width="0.93"/>
<polyline points="286.1,152.0 284.8,155.0 283.5,158.0 282.2,161.0 280.9,164.0" stroke-width="0.92"/>
<polyline points="280.9,164.0 279.5,167.0 278.1,170.0 276.6,173.0 275.1,176.0" stroke-width="0.90"/>
<polyline points="275.1,176.0 273.5,179.0 271.9,182.0 270.3,185.0 268.6,188.0" stroke-width="0.88"/>
<polyline points="268.6,188.0 266.9,191.0 265.2,194.0 263.5,197.0 261.8,200.0" stroke-width="0.87"/>
<polyline points="261.8,200.0 260.2,203.0 258.5,206.0 256.9,209.0 255.3,212.0" stroke-width="0.88"/>
<polyline points="255.3,212.0 253.6,215.0 251.9,218.0 250.1,221.0 248.2,224.0" stroke-width="0.86"/>
<polyline points="248.2,224.0 246.2,227.0 244.1,230.0 241.6,233.0 238.7,236.0" stroke-width="0.78"/>
<polyline points="238.7,236.0 235.6,239.0 232.6,242.0 229.9,245.0 227.4,248.0" stroke-width="0.73"/>
<polyline points="227.4,248.0 225.2,251.0 223.0,254.0 220.8,257.0 218.4,260.0" stroke-width="0.80"/>
<polyline points="218.4,260.0 215.9,263.0 213.4,266.0 210.7,269.0 208.0,272.0" stroke-width="0.76"/>
<polyline points="208.0,272.0 205.0,275.0 201.9,278.0 198.6,281.0 195.1,284.0" stroke-width="0.73"/>
<polyline points="195.1,284.0 191.6,287.0 187.9,290.0 184.1,293.0 180.1,296.0" stroke-width="0.78"/>
<polyline points="180.1,296.0 175.9,299.0 171.8,302.0 167.7,305.0 163.6,308.0" stroke-width="0.81"/>
<polyline points="163.6,308.0 159.4,311.0 155.2,314.0 151.1,317.0 147.2,320.0" stroke-width="0.81"/>
<polyline points="147.2,320.0 143.5,323.0 139.9,326.0 136.5,329.0 132.9,332.0" stroke-width="0.77"/>
<polyline points="132.9,332.0 129.1,335.0 124.8,338.0 120.3,341.0 115.9,344.0" stroke-width="0.82"/>
<polyline points="115.9,344.0 112.1,347.0 108.6,350.0 105.3,353.0 102.2,356.0" stroke-width="0.75"/>
<polyline points="102.2,356.0 99.2,359.0 96.3,362.0 93.5,366.0" stroke-width="0.75"/>
<polyline points="311.5,80.0 311.0,83.0 310.3,86.0 309.6,89.0 308.9,92.0" stroke-width="0.98"/>
<polyline points="308.9,92.0 308.0,95.0 307.0,98.0 305.9,101.0 304.6,104.0" stroke-width="0.94"/>
<polyline points="304.6,104.0 303.4,107.0 302.4,110.0 301.4,113.0 300.6,116.0" stroke-width="0.95"/>
<polyline points="300.6,116.0 299.8,119.0 299.0,122.0 298.2,125.0 297.5,128.0" stroke-width="0.97"/>
<polyline points="297.5,128.0 296.7,131.0 295.9,134.0 295.1,137.0 294.1,140.0" stroke-width="0.96"/>
<polyline points="294.1,140.0 293.2,143.0 292.2,146.0 291.2,149.0 290.2,152.0" stroke-width="0.95"/>
<polyline points="290.2,152.0 289.1,155.0 288.0,158.0 286.9,161.0 285.7,164.0" stroke-width="0.94"/>
<polyline points="285.7,164.0 284.4,167.0 283.2,170.0 281.8,173.0 280.4,176.0" stroke-width="0.91"/>
<polyline points="280.4,176.0 278.9,179.0 277.4,182.0 275.8,185.0 274.2,188.0" stroke-width="0.89"/>
<polyline points="274.2,188.0 272.5,191.0 270.8,194.0 269.1,197.0 267.4,200.0" stroke-width="0.87"/>
<polyline points="267.4,200.0 265.7,203.0 264.1,206.0 262.4,209.0 260.8,212.0" stroke-width="0.88"/>
<polyline points="260.8,212.0 259.1,215.0 257.3,218.0 255.4,221.0 253.4,224.0" stroke-width="0.85"/>
<polyline points="253.4,224.0 251.2,227.0 248.9,230.0 246.2,233.0 243.0,236.0" stroke-width="0.77"/>
<polyline points="243.0,236.0 239.6,239.0 236.2,242.0 233.1,245.0 230.3,248.0" stroke-width="0.74"/>
<polyline points="230.3,248.0 227.7,251.0 225.1,254.0 222.5,257.0 219.8,260.0" stroke-width="0.75"/>
<polyline points="219.8,260.0 217.0,263.0 214.2,266.0 211.4,269.0 208.5,272.0" stroke-width="0.73"/>
<polyline points="208.5,272.0 205.4,275.0 202.2,278.0 198.9,281.0 195.4,284.0" stroke-width="0.74"/>
<polyline points="195.4,284.0 191.8,287.0 188.2,290.0 184.3,293.0 180.3,296.0" stroke-width="0.78"/>
<polyline points="180.3,296.0 176.2,299.0 172.1,302.0 168.0,305.0 163.9,308.0" stroke-width="0.81"/>
<polyline points="163.9,308.0 159.7,311.0 155.5,314.0 151.5,317.0 147.6,320.0" stroke-width="0.81"/>
<polyline points="147.6,320.0 144.0,323.0 140.6,326.0 137.2,329.0 133.8,332.0" stroke-width="0.75"/>
<polyline points="133.8,332.0 130.2,335.0 126.1,338.0 121.9,341.0 117.7,344.0" stroke-width="0.80"/>
<polyline points="117.7,344.0 114.0,347.0 110.5,350.0 107.2,353.0 103.8,356.0" stroke-width="0.76"/>
<polyline points="103.8,356.0 100.4,359.0 97.1,362.0 93.8,366.0" stroke-width="0.75"/>
<polyline points="312.2,80.0 311.6,83.0 311.0,86.0 310.3,89.0 309.6,92.0" stroke-width="0.98"/>
<polyline points="309.6,92.0 308.8,95.0 308.0,98.0 307.1,101.0 306.1,104.0" stroke-width="0.96"/>
<polyline points="306.1,104.0 305.2,107.0 304.3,110.0 303.5,113.0 302.8,116.0" stroke-width="0.96"/>
<polyline points="302.8,116.0 302.1,119.0 301.5,122.0 300.8,125.0 300.2,128.0" stroke-width="0.98"/>
<polyline points="300.2,128.0 299.5,131.0 298.8,134.0 298.0,137.0 297.2,140.0" stroke-width="0.97"/>
<polyline points="297.2,140.0 296.3,143.0 295.4,146.0 294.4,149.0 293.4,152.0" stroke-width="0.95"/>
<polyline points="293.4,152.0 292.3,155.0 291.1,158.0 289.9,161.0 288.7,164.0" stroke-width="0.93"/>
<polyline points="288.7,164.0 287.5,167.0 286.2,170.0 284.8,173.0 283.3,176.0" stroke-width="0.91"/>
<polyline points="283.3,176.0 281.8,179.0 280.2,182.0 278.5,185.0 276.8,188.0" stroke-width="0.88"/>
<polyline points="276.8,188.0 275.1,191.0 273.3,194.0 271.5,197.0 269.8,200.0" stroke-width="0.86"/>
<polyline points="269.8,200.0 268.1,203.0 266.4,206.0 264.7,209.0 263.0,212.0" stroke-width="0.87"/>
<polyline points="263.0,212.0 261.3,215.0 259.5,218.0 257.6,221.0 255.7,224.0" stroke-width="0.85"/>
<polyline points="255.7,224.0 253.5,227.0 251.2,230.0 248.6,233.0 245.4,236.0" stroke-width="0.77"/>
<polyline points="245.4,236.0 242.1,239.0 238.8,242.0 235.8,245.0 233.1,248.0" stroke-width="0.73"/>
<polyline points="233.1,248.0 230.6,251.0 228.1,254.0 225.6,257.0 223.0,260.0" stroke-width="0.77"/>
<polyline points="223.0,260.0 220.2,263.0 217.5,266.0 214.6,269.0 211.7,272.0" stroke-width="0.73"/>
<polyline points="211.7,272.0 208.6,275.0 205.4,278.0 201.9,281.0 198.4,284.0" stroke-width="0.74"/>
<polyline points="198.4,284.0 194.7,287.0 191.0,290.0 187.1,293.0 183.0,296.0" stroke-width="0.79"/>
<polyline points="183.0,296.0 178.8,299.0 174.6,302.0 170.5,305.0 166.3,308.0" stroke-width="0.81"/>
<polyline points="166.3,308.0 162.1,311.0 158.0,314.0 153.9,317.0 150.0,320.0" stroke-width="0.81"/>
<polyline points="150.0,320.0 146.3,323.0 142.9,326.0 139.5,329.0 136.0,332.0" stroke-width="0.76"/>
<polyline points="136.0,332.0 132.2,335.0 128.0,338.0 123.5,341.0 119.1,344.0" stroke-width="0.81"/>
<polyline points="119.1,344.0 115.2,347.0 111.4,350.0 107.8,353.0 104.3,356.0" stroke-width="0.78"/>
<polyline points="104.3,356.0 100.8,359.0 97.3,362.0 94.0,366.0" stroke-width="0.76"/>
<polyline points="313.0,80.0 312.6,83.0 312.2,86.0 311.6,89.0 311.0,92.0" stroke-width="0.99"/>
<polyline points="311.0,92.0 310.4,95.0 309.6,98.0 308.6,101.0 307.6,104.0" stroke-width="0.96"/>
<polyline points="307.6,104.0 306.6,107.0 305.7,110.0 304.9,113.0 304.1,116.0" stroke-width="0.96"/>
<polyline points="304.1,116.0 303.4,119.0 302.7,122.0 302.0,125.0 301.4,128.0" stroke-width="0.98"/>
<polyline points="301.4,128.0 300.7,131.0 299.9,134.0 299.2,137.0 298.3,140.0" stroke-width="0.97"/>
<polyline points="298.3,140.0 297.5,143.0 296.5,146.0 295.6,149.0 294.6,152.0" stroke-width="0.96"/>
<polyline points="294.6,152.0 293.5,155.0 292.4,158.0 291.3,161.0 290.1,164.0" stroke-width="0.94"/>
<polyline points="290.1,164.0 288.9,167.0 287.7,170.0 286.4,173.0 285.0,176.0" stroke-width="0.92"/>
<polyline points="285.0,176.0 283.5,179.0 282.0,182.0 280.4,185.0 278.8,188.0" stroke-width="0.89"/>
<polyline points="278.8,188.0 277.2,191.0 275.5,194.0 273.8,197.0 272.1,200.0" stroke-width="0.87"/>
<polyline points="272.1,200.0 270.4,203.0 268.8,206.0 267.1,209.0 265.4,212.0" stroke-width="0.87"/>
<polyline points="265.4,212.0 263.7,215.0 261.9,218.0 260.0,221.0 258.0,224.0" stroke-width="0.85"/>
<polyline points="258.0,224.0 255.8,227.0 253.4,230.0 250.6,233.0 247.2,236.0" stroke-width="0.77"/>
<polyline points="247.2,236.0 243.6,239.0 240.0,242.0 236.7,245.0 233.8,248.0" stroke-width="0.75"/>
<polyline points="233.8,248.0 231.0,251.0 228.3,254.0 225.6,257.0 222.8,260.0" stroke-width="0.74"/>
<polyline points="222.8,260.0 220.0,263.0 217.2,266.0 214.4,269.0 211.5,272.0" stroke-width="0.73"/>
<polyline points="211.5,272.0 208.5,275.0 205.3,278.0 202.1,281.0 198.8,284.0" stroke-width="0.73"/>
<polyline points="198.8,284.0 195.3,287.0 191.8,290.0 188.1,293.0 184.2,296.0" stroke-width="0.77"/>
<polyline points="184.2,296.0 180.3,299.0 176.3,302.0 172.3,305.0 168.3,308.0" stroke-width="0.80"/>
<polyline points="168.3,308.0 164.2,311.0 160.1,314.0 156.0,317.0 152.1,320.0" stroke-width="0.80"/>
<polyline points="152.1,320.0 148.4,323.0 144.8,326.0 141.3,329.0 137.7,332.0" stroke-width="0.77"/>
<polyline points="137.7,332.0 133.7,335.0 129.3,338.0 124.6,341.0 120.0,344.0" stroke-width="0.83"/>
<polyline points="120.0,344.0 115.9,347.0 112.1,350.0 108.4,353.0 104.8,356.0" stroke-width="0.78"/>
<polyline points="104.8,356.0 101.2,359.0 97.7,362.0 94.3,366.0" stroke-width="0.76"/>
<polyline points="314.5,80.0 314.0,83.0 313.5,86.0 312.9,89.0 312.3,92.0" stroke-width="0.98"/>
<polyline points="312.3,92.0 311.6,95.0 310.9,98.0 310.1,101.0 309.3,104.0" stroke-width="0.97"/>
<polyline points="309.3,104.0 308.4,107.0 307.7,110.0 307.0,113.0 306.4,116.0" stroke-width="0.97"/>
<polyline points="306.4,116.0 305.8,119.0 305.2,122.0 304.6,125.0 304.0,128.0" stroke-width="0.98"/>
<polyline points="304.0,128.0 303.4,131.0 302.8,134.0 302.1,137.0 301.4,140.0" stroke-width="0.98"/>
<polyline points="301.4,140.0 300.6,143.0 299.7,146.0 298.8,149.0 297.8,152.0" stroke-width="0.96"/>
<polyline points="297.8,152.0 296.8,155.0 295.7,158.0 294.6,161.0 293.5,164.0" stroke-width="0.94"/>
<polyline points="293.5,164.0 292.3,167.0 291.1,170.0 289.8,173.0 288.4,176.0" stroke-width="0.92"/>
<polyline points="288.4,176.0 286.9,179.0 285.4,182.0 283.8,185.0 282.2,188.0" stroke-width="0.89"/>
<polyline points="282.2,188.0 280.5,191.0 278.8,194.0 277.1,197.0 275.4,200.0" stroke-width="0.87"/>
<polyline points="275.4,200.0 273.8,203.0 272.1,206.0 270.5,209.0 268.8,212.0" stroke-width="0.88"/>
<polyline points="268.8,212.0 267.1,215.0 265.3,218.0 263.4,221.0 261.4,224.0" stroke-width="0.85"/>
<polyline points="261.4,224.0 259.2,227.0 256.8,230.0 254.0,233.0 250.5,236.0" stroke-width="0.77"/>
<polyline points="250.5,236.0 246.8,239.0 243.2,242.0 239.8,245.0 236.7,248.0" stroke-width="0.75"/>
<polyline points="236.7,248.0 233.8,251.0 231.0,254.0 228.1,257.0 225.3,260.0" stroke-width="0.73"/>
<polyline points="225.3,260.0 222.4,263.0 219.6,266.0 216.7,269.0 213.8,272.0" stroke-width="0.72"/>
<polyline points="213.8,272.0 210.7,275.0 207.6,278.0 204.3,281.0 200.9,284.0" stroke-width="0.73"/>
<polyline points="200.9,284.0 197.4,287.0 193.8,290.0 190.0,293.0 186.1,296.0" stroke-width="0.78"/>
<polyline points="186.1,296.0 182.0,299.0 177.9,302.0 173.8,305.0 169.6,308.0" stroke-width="0.81"/>
<polyline points="169.6,308.0 165.4,311.0 161.2,314.0 157.1,317.0 153.1,320.0" stroke-width="0.81"/>
<polyline points="153.1,320.0 149.4,323.0 145.9,326.0 142.5,329.0 138.9,332.0" stroke-width="0.76"/>
<polyline points="138.9,332.0 135.1,335.0 130.8,338.0 126.3,341.0 121.8,344.0" stroke-width="0.82"/>
<polyline points="121.8,344.0 117.6,347.0 113.7,350.0 109.8,353.0 106.0,356.0" stroke-width="0.80"/>
<polyline points="106.0,356.0 102.1,359.0 98.3,362.0 94.5,366.0" stroke-width="0.77"/>
<polyline points="321.7,80.0 321.2,83.0 320.6,86.0 320.0,89.0 319.4,92.0" stroke-width="0.98"/>
<polyline points="319.4,92.0 318.8,95.0 318.0,98.0 317.2,101.0 316.4,104.0" stroke-width="0.97"/>
<polyline points="316.4,104.0 315.6,107.0 314.8,110.0 314.1,113.0 313.5,116.0" stroke-width="0.97"/>
<polyline points="313.5,116.0 312.8,119.0 312.3,122.0 311.7,125.0 311.1,128.0" stroke-width="0.98"/>
<polyline points="311.1,128.0 310.5,131.0 309.8,134.0 309.1,137.0 308.3,140.0" stroke-width="0.97"/>
<polyline points="308.3,140.0 307.5,143.0 306.5,146.0 305.6,149.0 304.5,152.0" stroke-width="0.95"/>
<polyline points="304.5,152.0 303.4,155.0 302.3,158.0 301.1,161.0 299.8,164.0" stroke-width="0.93"/>
<polyline points="299.8,164.0 298.6,167.0 297.2,170.0 295.8,173.0 294.3,176.0" stroke-width="0.91"/>
<polyline points="294.3,176.0 292.7,179.0 291.0,182.0 289.3,185.0 287.5,188.0" stroke-width="0.87"/>
<polyline points="287.5,188.0 285.7,191.0 283.8,194.0 282.0,197.0 280.1,200.0" stroke-width="0.85"/>
<polyline points="280.1,200.0 278.3,203.0 276.5,206.0 274.8,209.0 273.0,212.0" stroke-width="0.86"/>
<polyline points="273.0,212.0 271.1,215.0 269.2,218.0 267.2,221.0 265.0,224.0" stroke-width="0.83"/>
<polyline points="265.0,224.0 262.7,227.0 260.1,230.0 257.1,233.0 253.6,236.0" stroke-width="0.75"/>
<polyline points="253.6,236.0 249.7,239.0 245.9,242.0 242.4,245.0 239.2,248.0" stroke-width="0.77"/>
<polyline points="239.2,248.0 236.2,251.0 233.2,254.0 230.3,257.0 227.3,260.0" stroke-width="0.71"/>
<polyline points="227.3,260.0 224.2,263.0 221.3,266.0 218.3,269.0 215.2,272.0" stroke-width="0.72"/>
<polyline points="215.2,272.0 212.0,275.0 208.7,278.0 205.3,281.0 201.8,284.0" stroke-width="0.74"/>
<polyline points="201.8,284.0 198.3,287.0 194.6,290.0 190.7,293.0 186.7,296.0" stroke-width="0.78"/>
<polyline points="186.7,296.0 182.6,299.0 178.5,302.0 174.4,305.0 170.2,308.0" stroke-width="0.81"/>
<polyline points="170.2,308.0 165.9,311.0 161.7,314.0 157.5,317.0 153.5,320.0" stroke-width="0.81"/>
<polyline points="153.5,320.0 149.8,323.0 146.2,326.0 142.8,329.0 139.2,332.0" stroke-width="0.77"/>
<polyline points="139.2,332.0 135.3,335.0 131.1,338.0 126.5,341.0 122.1,344.0" stroke-width="0.82"/>
<polyline points="122.1,344.0 118.0,347.0 114.1,350.0 110.3,353.0 106.4,356.0" stroke-width="0.79"/>
<polyline points="106.4,356.0 102.5,359.0 98.6,362.0 94.7,366.0" stroke-width="0.77"/>
<polyline points="332.0,80.0 331.4,83.0 330.7,86.0 329.9,89.0 329.0,92.0" stroke-width="0.97"/>
<polyline points="329.0,92.0 328.1,95.0 327.0,98.0 325.8,101.0 324.5,104.0" stroke-width="0.94"/>
<polyline points="324.5,104.0 323.2,107.0 322.0,110.0 321.0,113.0 320.0,116.0" stroke-width="0.94"/>
<polyline points="320.0,116.0 319.1,119.0 318.2,122.0 317.3,125.0 316.4,128.0" stroke-width="0.96"/>
<polyline points="316.4,128.0 315.5,131.0 314.5,134.0 313.6,137.0 312.5,140.0" stroke-width="0.95"/>
<polyline points="312.5,140.0 311.4,143.0 310.2,146.0 309.0,149.0 307.8,152.0" stroke-width="0.93"/>
<polyline points="307.8,152.0 306.5,155.0 305.2,158.0 303.8,161.0 302.5,164.0" stroke-width="0.91"/>
<polyline points="302.5,164.0 301.0,167.0 299.6,170.0 298.1,173.0 296.6,176.0" stroke-width="0.90"/>
<polyline points="296.6,176.0 295.0,179.0 293.3,182.0 291.6,185.0 289.9,188.0" stroke-width="0.87"/>
<polyline points="289.9,188.0 288.2,191.0 286.4,194.0 284.6,197.0 282.9,200.0" stroke-width="0.86"/>
<polyline points="282.9,200.0 281.1,203.0 279.4,206.0 277.8,209.0 276.1,212.0" stroke-width="0.87"/>
<polyline points="276.1,212.0 274.3,215.0 272.5,218.0 270.6,221.0 268.5,224.0" stroke-width="0.84"/>
<polyline points="268.5,224.0 266.3,227.0 263.8,230.0 260.9,233.0 257.4,236.0" stroke-width="0.76"/>
<polyline points="257.4,236.0 253.6,239.0 249.8,242.0 246.2,245.0 242.9,248.0" stroke-width="0.77"/>
<polyline points="242.9,248.0 239.7,251.0 236.6,254.0 233.5,257.0 230.3,260.0" stroke-width="0.72"/>
<polyline points="230.3,260.0 227.2,263.0 224.0,266.0 220.9,269.0 217.7,272.0" stroke-width="0.72"/>
<polyline points="217.7,272.0 214.4,275.0 211.0,278.0 207.6,281.0 204.1,284.0" stroke-width="0.75"/>
<polyline points="204.1,284.0 200.5,287.0 196.7,290.0 192.8,293.0 188.8,296.0" stroke-width="0.79"/>
<polyline points="188.8,296.0 184.6,299.0 180.4,302.0 176.2,305.0 171.9,308.0" stroke-width="0.82"/>
<polyline points="171.9,308.0 167.5,311.0 163.1,314.0 158.8,317.0 154.6,320.0" stroke-width="0.82"/>
<polyline points="154.6,320.0 150.8,323.0 147.1,326.0 143.5,329.0 139.7,332.0" stroke-width="0.78"/>
<polyline points="139.7,332.0 135.8,335.0 131.4,338.0 126.8,341.0 122.2,344.0" stroke-width="0.82"/>
<polyline points="122.2,344.0 118.1,347.0 114.3,350.0 110.5,353.0 106.7,356.0" stroke-width="0.79"/>
<polyline points="106.7,356.0 102.8,359.0 98.9,362.0 95.0,366.0" stroke-width="0.77"/>
<polyline points="337.6,80.0 337.1,83.0 336.5,86.0 335.7,89.0 334.8,92.0" stroke-width="0.97"/>
<polyline points="334.8,92.0 333.9,95.0 332.7,98.0 331.1,101.0 329.5,104.0" stroke-width="0.91"/>
<polyline points="329.5,104.0 327.8,107.0 326.4,110.0 325.1,113.0 323.9,116.0" stroke-width="0.91"/>
<polyline points="323.9,116.0 322.8,119.0 321.7,122.0 320.6,125.0 319.6,128.0" stroke-width="0.94"/>
<polyline points="319.6,128.0 318.5,131.0 317.4,134.0 316.3,137.0 315.1,140.0" stroke-width="0.94"/>
<polyline points="315.1,140.0 313.8,143.0 312.5,146.0 311.2,149.0 309.8,152.0" stroke-width="0.91"/>
<polyline points="309.8,152.0 308.5,155.0 307.1,158.0 305.6,161.0 304.2,164.0" stroke-width="0.91"/>
<polyline points="304.2,164.0 302.7,167.0 301.1,170.0 299.6,173.0 297.9,176.0" stroke-width="0.89"/>
<polyline points="297.9,176.0 296.3,179.0 294.5,182.0 292.8,185.0 291.0,188.0" stroke-width="0.87"/>
<polyline points="291.0,188.0 289.2,191.0 287.4,194.0 285.5,197.0 283.7,200.0" stroke-width="0.85"/>
<polyline points="283.7,200.0 281.9,203.0 280.1,206.0 278.4,209.0 276.7,212.0" stroke-width="0.86"/>
<polyline points="276.7,212.0 274.9,215.0 273.0,218.0 271.0,221.0 268.9,224.0" stroke-width="0.84"/>
<polyline points="268.9,224.0 266.6,227.0 264.1,230.0 261.1,233.0 257.5,236.0" stroke-width="0.76"/>
<polyline points="257.5,236.0 253.6,239.0 249.7,242.0 246.0,245.0 242.7,248.0" stroke-width="0.78"/>
<polyline points="242.7,248.0 239.5,251.0 236.4,254.0 233.2,257.0 230.1,260.0" stroke-width="0.72"/>
<polyline points="230.1,260.0 227.1,263.0 224.0,266.0 221.0,269.0 217.9,272.0" stroke-width="0.71"/>
<polyline points="217.9,272.0 214.8,275.0 211.5,278.0 208.2,281.0 204.8,284.0" stroke-width="0.74"/>
<polyline points="204.8,284.0 201.4,287.0 197.7,290.0 193.9,293.0 189.8,296.0" stroke-width="0.78"/>
<polyline points="189.8,296.0 185.7,299.0 181.4,302.0 177.2,305.0 172.9,308.0" stroke-width="0.82"/>
<polyline points="172.9,308.0 168.5,311.0 164.1,314.0 159.8,317.0 155.7,320.0" stroke-width="0.82"/>
<polyline points="155.7,320.0 151.9,323.0 148.3,326.0 144.8,329.0 141.1,332.0" stroke-width="0.77"/>
<polyline points="141.1,332.0 137.2,335.0 132.9,338.0 128.3,341.0 123.8,344.0" stroke-width="0.82"/>
<polyline points="123.8,344.0 119.6,347.0 115.6,350.0 111.6,353.0 107.6,356.0" stroke-width="0.80"/>
<polyline points="107.6,356.0 103.5,359.0 99.4,362.0 95.2,366.0" stroke-width="0.78"/>
<polyline points="344.0,80.0 343.2,83.0 342.3,86.0 341.3,89.0 340.1,92.0" stroke-width="0.95"/>
<polyline points="340.1,92.0 338.9,95.0 337.4,98.0 335.7,101.0 333.8,104.0" stroke-width="0.88"/>
<polyline points="333.8,104.0 332.0,107.0 330.4,110.0 329.0,113.0 327.7,116.0" stroke-width="0.89"/>
<polyline points="327.7,116.0 326.4,119.0 325.2,122.0 324.1,125.0 322.9,128.0" stroke-width="0.93"/>
<polyline points="322.9,128.0 321.7,131.0 320.5,134.0 319.3,137.0 317.9,140.0" stroke-width="0.92"/>
<polyline points="317.9,140.0 316.5,143.0 315.1,146.0 313.7,149.0 312.2,152.0" stroke-width="0.90"/>
<polyline points="312.2,152.0 310.7,155.0 309.1,158.0 307.6,161.0 306.0,164.0" stroke-width="0.89"/>
<polyline points="306.0,164.0 304.4,167.0 302.8,170.0 301.2,173.0 299.5,176.0" stroke-width="0.88"/>
<polyline points="299.5,176.0 297.8,179.0 296.1,182.0 294.4,185.0 292.7,188.0" stroke-width="0.87"/>
<polyline points="292.7,188.0 290.9,191.0 289.1,194.0 287.3,197.0 285.5,200.0" stroke-width="0.86"/>
<polyline points="285.5,200.0 283.7,203.0 282.0,206.0 280.4,209.0 278.7,212.0" stroke-width="0.87"/>
<polyline points="278.7,212.0 277.0,215.0 275.2,218.0 273.3,221.0 271.2,224.0" stroke-width="0.85"/>
<polyline points="271.2,224.0 269.0,227.0 266.5,230.0 263.4,233.0 259.7,236.0" stroke-width="0.77"/>
<polyline points="259.7,236.0 255.7,239.0 251.7,242.0 247.9,245.0 244.4,248.0" stroke-width="0.79"/>
<polyline points="244.4,248.0 241.0,251.0 237.7,254.0 234.4,257.0 231.2,260.0" stroke-width="0.74"/>
<polyline points="231.2,260.0 228.1,263.0 225.0,266.0 222.0,269.0 218.9,272.0" stroke-width="0.72"/>
<polyline points="218.9,272.0 215.8,275.0 212.6,278.0 209.3,281.0 206.0,284.0" stroke-width="0.73"/>
<polyline points="206.0,284.0 202.6,287.0 199.0,290.0 195.3,293.0 191.3,296.0" stroke-width="0.77"/>
<polyline points="191.3,296.0 187.3,299.0 183.1,302.0 179.0,305.0 174.7,308.0" stroke-width="0.81"/>
<polyline points="174.7,308.0 170.4,311.0 166.0,314.0 161.7,317.0 157.6,320.0" stroke-width="0.82"/>
<polyline points="157.6,320.0 153.7,323.0 150.1,326.0 146.5,329.0 142.8,332.0" stroke-width="0.78"/>
<polyline points="142.8,332.0 138.9,335.0 134.5,338.0 129.9,341.0 125.3,344.0" stroke-width="0.82"/>
<polyline points="125.3,344.0 121.0,347.0 116.9,350.0 112.9,353.0 108.7,356.0" stroke-width="0.81"/>
<polyline points="108.7,356.0 104.4,359.0 100.0,362.0 95.5,366.0" stroke-width="0.80"/>
<polyline points="351.0,80.0 349.7,83.0 348.4,86.0 346.9,89.0 345.4,92.0" stroke-width="0.91"/>
<polyline points="345.4,92.0 343.8,95.0 342.1,98.0 340.1,101.0 338.1,104.0" stroke-width="0.85"/>
<polyline points="338.1,104.0 336.1,107.0 334.4,110.0 332.9,113.0 331.5,116.0" stroke-width="0.88"/>
<polyline points="331.5,116.0 330.2,119.0 328.9,122.0 327.7,125.0 326.5,128.0" stroke-width="0.92"/>
<polyline points="326.5,128.0 325.2,131.0 324.0,134.0 322.7,137.0 321.3,140.0" stroke-width="0.92"/>
<polyline points="321.3,140.0 319.8,143.0 318.3,146.0 316.8,149.0 315.2,152.0" stroke-width="0.89"/>
<polyline points="315.2,152.0 313.6,155.0 312.0,158.0 310.4,161.0 308.7,164.0" stroke-width="0.88"/>
<polyline points="308.7,164.0 307.0,167.0 305.3,170.0 303.6,173.0 301.9,176.0" stroke-width="0.87"/>
<polyline points="301.9,176.0 300.2,179.0 298.4,182.0 296.6,185.0 294.8,188.0" stroke-width="0.86"/>
<polyline points="294.8,188.0 293.0,191.0 291.2,194.0 289.4,197.0 287.5,200.0" stroke-width="0.85"/>
<polyline points="287.5,200.0 285.8,203.0 284.0,206.0 282.4,209.0 280.7,212.0" stroke-width="0.87"/>
<polyline points="280.7,212.0 279.0,215.0 277.2,218.0 275.3,221.0 273.3,224.0" stroke-width="0.85"/>
<polyline points="273.3,224.0 271.0,227.0 268.5,230.0 265.5,233.0 261.8,236.0" stroke-width="0.76"/>
<polyline points="261.8,236.0 257.8,239.0 253.7,242.0 249.8,245.0 246.3,248.0" stroke-width="0.79"/>
<polyline points="246.3,248.0 242.7,251.0 239.3,254.0 235.8,257.0 232.5,260.0" stroke-width="0.75"/>
<polyline points="232.5,260.0 229.2,263.0 226.0,266.0 222.8,269.0 219.6,272.0" stroke-width="0.73"/>
<polyline points="219.6,272.0 216.4,275.0 213.1,278.0 209.9,281.0 206.6,284.0" stroke-width="0.73"/>
<polyline points="206.6,284.0 203.2,287.0 199.7,290.0 196.0,293.0 192.1,296.0" stroke-width="0.77"/>
<polyline points="192.1,296.0 188.2,299.0 184.2,302.0 180.1,305.0 176.0,308.0" stroke-width="0.80"/>
<polyline points="176.0,308.0 171.8,311.0 167.5,314.0 163.3,317.0 159.2,320.0" stroke-width="0.81"/>
<polyline points="159.2,320.0 155.4,323.0 151.7,326.0 148.0,329.0 144.3,332.0" stroke-width="0.78"/>
<polyline points="144.3,332.0 140.2,335.0 135.7,338.0 130.8,341.0 126.0,344.0" stroke-width="0.83"/>
<polyline points="126.0,344.0 121.6,347.0 117.4,350.0 113.2,353.0 109.0,356.0" stroke-width="0.82"/>
<polyline points="109.0,356.0 104.6,359.0 100.2,362.0 95.8,366.0" stroke-width="0.80"/>
<polyline points="353.5,80.0 352.7,83.0 351.7,86.0 350.6,89.0 349.3,92.0" stroke-width="0.94"/>
<polyline points="349.3,92.0 348.0,95.0 346.3,98.0 344.3,101.0 342.2,104.0" stroke-width="0.86"/>
<polyline points="342.2,104.0 340.1,107.0 338.2,110.0 336.6,113.0 335.1,116.0" stroke-width="0.86"/>
<polyline points="335.1,116.0 333.6,119.0 332.2,122.0 330.8,125.0 329.5,128.0" stroke-width="0.91"/>
<polyline points="329.5,128.0 328.1,131.0 326.7,134.0 325.3,137.0 323.8,140.0" stroke-width="0.90"/>
<polyline points="323.8,140.0 322.3,143.0 320.7,146.0 319.0,149.0 317.4,152.0" stroke-width="0.88"/>
<polyline points="317.4,152.0 315.7,155.0 314.1,158.0 312.4,161.0 310.7,164.0" stroke-width="0.87"/>
<polyline points="310.7,164.0 309.0,167.0 307.2,170.0 305.5,173.0 303.8,176.0" stroke-width="0.87"/>
<polyline points="303.8,176.0 302.0,179.0 300.3,182.0 298.5,185.0 296.7,188.0" stroke-width="0.86"/>
<polyline points="296.7,188.0 294.9,191.0 293.1,194.0 291.3,197.0 289.4,200.0" stroke-width="0.85"/>
<polyline points="289.4,200.0 287.7,203.0 286.0,206.0 284.4,209.0 282.7,212.0" stroke-width="0.87"/>
<polyline points="282.7,212.0 281.1,215.0 279.3,218.0 277.5,221.0 275.5,224.0" stroke-width="0.86"/>
<polyline points="275.5,224.0 273.3,227.0 270.9,230.0 268.0,233.0 264.5,236.0" stroke-width="0.77"/>
<polyline points="264.5,236.0 260.6,239.0 256.7,242.0 253.0,245.0 249.5,248.0" stroke-width="0.78"/>
<polyline points="249.5,248.0 246.1,251.0 242.7,254.0 239.3,257.0 235.9,260.0" stroke-width="0.75"/>
<polyline points="235.9,260.0 232.6,263.0 229.3,266.0 226.0,269.0 222.7,272.0" stroke-width="0.74"/>
<polyline points="222.7,272.0 219.3,275.0 215.9,278.0 212.5,281.0 209.0,284.0" stroke-width="0.75"/>
<polyline points="209.0,284.0 205.5,287.0 201.8,290.0 198.0,293.0 193.9,296.0" stroke-width="0.78"/>
<polyline points="193.9,296.0 189.8,299.0 185.7,302.0 181.5,305.0 177.3,308.0" stroke-width="0.81"/>
<polyline points="177.3,308.0 173.0,311.0 168.7,314.0 164.4,317.0 160.3,320.0" stroke-width="0.82"/>
<polyline points="160.3,320.0 156.5,323.0 152.8,326.0 149.2,329.0 145.5,332.0" stroke-width="0.78"/>
<polyline points="145.5,332.0 141.4,335.0 136.8,338.0 131.9,341.0 127.0,344.0" stroke-width="0.84"/>
<polyline points="127.0,344.0 122.5,347.0 118.1,350.0 113.8,353.0 109.4,356.0" stroke-width="0.83"/>
<polyline points="109.4,356.0 105.0,359.0 100.5,362.0 96.0,366.0" stroke-width="0.80"/>
<polyline points="356.0,80.0 354.8,83.0 353.6,86.0 352.1,89.0 350.6,92.0" stroke-width="0.91"/>
<polyline points="350.6,92.0 349.0,95.0 347.2,98.0 345.1,101.0 343.0,104.0" stroke-width="0.84"/>
<polyline points="343.0,104.0 340.9,107.0 339.0,110.0 337.4,113.0 335.9,116.0" stroke-width="0.86"/>
<polyline points="335.9,116.0 334.5,119.0 333.2,122.0 331.9,125.0 330.6,128.0" stroke-width="0.91"/>
<polyline points="330.6,128.0 329.4,131.0 328.0,134.0 326.7,137.0 325.3,140.0" stroke-width="0.91"/>
<polyline points="325.3,140.0 323.8,143.0 322.2,146.0 320.7,149.0 319.1,152.0" stroke-width="0.89"/>
<polyline points="319.1,152.0 317.5,155.0 315.9,158.0 314.3,161.0 312.6,164.0" stroke-width="0.88"/>
<polyline points="312.6,164.0 311.0,167.0 309.3,170.0 307.6,173.0 305.9,176.0" stroke-width="0.87"/>
<polyline points="305.9,176.0 304.2,179.0 302.5,182.0 300.7,185.0 299.0,188.0" stroke-width="0.87"/>
<polyline points="299.0,188.0 297.2,191.0 295.4,194.0 293.7,197.0 291.9,200.0" stroke-width="0.86"/>
<polyline points="291.9,200.0 290.2,203.0 288.5,206.0 286.9,209.0 285.3,212.0" stroke-width="0.88"/>
<polyline points="285.3,212.0 283.7,215.0 282.0,218.0 280.1,221.0 278.2,224.0" stroke-width="0.86"/>
<polyline points="278.2,224.0 276.0,227.0 273.6,230.0 270.7,233.0 267.2,236.0" stroke-width="0.77"/>
<polyline points="267.2,236.0 263.3,239.0 259.4,242.0 255.6,245.0 252.0,248.0" stroke-width="0.78"/>
<polyline points="252.0,248.0 248.5,251.0 244.9,254.0 241.4,257.0 237.9,260.0" stroke-width="0.76"/>
<polyline points="237.9,260.0 234.5,263.0 231.1,266.0 227.8,269.0 224.5,272.0" stroke-width="0.74"/>
<polyline points="224.5,272.0 221.1,275.0 217.8,278.0 214.5,281.0 211.1,284.0" stroke-width="0.74"/>
<polyline points="211.1,284.0 207.7,287.0 204.2,290.0 200.4,293.0 196.5,296.0" stroke-width="0.77"/>
<polyline points="196.5,296.0 192.5,299.0 188.5,302.0 184.3,305.0 180.1,308.0" stroke-width="0.81"/>
<polyline points="180.1,308.0 175.6,311.0 171.2,314.0 166.8,317.0 162.5,320.0" stroke-width="0.83"/>
<polyline points="162.5,320.0 158.5,323.0 154.7,326.0 150.9,329.0 147.0,332.0" stroke-width="0.79"/>
<polyline points="147.0,332.0 142.8,335.0 138.2,338.0 133.2,341.0 128.3,344.0" stroke-width="0.84"/>
<polyline points="128.3,344.0 123.7,347.0 119.3,350.0 115.0,353.0 110.4,356.0" stroke-width="0.83"/>
<polyline points="110.4,356.0 105.8,359.0 101.1,362.0 96.2,366.0" stroke-width="0.82"/>
<polyline points="358.3,80.0 357.5,83.0 356.4,86.0 355.2,89.0 353.9,92.0" stroke-width="0.94"/>
<polyline points="353.9,92.0 352.4,95.0 350.7,98.0 348.6,101.0 346.3,104.0" stroke-width="0.84"/>
<polyline points="346.3,104.0 344.1,107.0 342.1,110.0 340.4,113.0 338.8,116.0" stroke-width="0.85"/>
<polyline points="338.8,116.0 337.3,119.0 335.8,122.0 334.4,125.0 333.0,128.0" stroke-width="0.90"/>
<polyline points="333.0,128.0 331.6,131.0 330.2,134.0 328.7,137.0 327.2,140.0" stroke-width="0.90"/>
<polyline points="327.2,140.0 325.7,143.0 324.1,146.0 322.5,149.0 320.9,152.0" stroke-width="0.89"/>
<polyline points="320.9,152.0 319.3,155.0 317.7,158.0 316.0,161.0 314.4,164.0" stroke-width="0.88"/>
<polyline points="314.4,164.0 312.8,167.0 311.2,170.0 309.6,173.0 308.1,176.0" stroke-width="0.89"/>
<polyline points="308.1,176.0 306.5,179.0 304.9,182.0 303.3,185.0 301.8,188.0" stroke-width="0.89"/>
<polyline points="301.8,188.0 300.2,191.0 298.6,194.0 297.0,197.0 295.4,200.0" stroke-width="0.88"/>
<polyline points="295.4,200.0 293.9,203.0 292.4,206.0 291.0,209.0 289.6,212.0" stroke-width="0.90"/>
<polyline points="289.6,212.0 288.2,215.0 286.7,218.0 285.1,221.0 283.4,224.0" stroke-width="0.89"/>
<polyline points="283.4,224.0 281.4,227.0 279.3,230.0 276.7,233.0 273.6,236.0" stroke-width="0.78"/>
<polyline points="273.6,236.0 270.1,239.0 266.5,242.0 263.1,245.0 259.8,248.0" stroke-width="0.75"/>
<polyline points="259.8,248.0 256.4,251.0 253.0,254.0 249.6,257.0 246.2,260.0" stroke-width="0.75"/>
<polyline points="246.2,260.0 242.6,263.0 239.1,266.0 235.5,269.0 231.8,272.0" stroke-width="0.77"/>
<polyline points="231.8,272.0 228.1,275.0 224.2,278.0 220.4,281.0 216.4,284.0" stroke-width="0.79"/>
<polyline points="216.4,284.0 212.4,287.0 208.2,290.0 204.0,293.0 199.6,296.0" stroke-width="0.81"/>
<polyline points="199.6,296.0 195.1,299.0 190.6,302.0 186.2,305.0 181.7,308.0" stroke-width="0.83"/>
<polyline points="181.7,308.0 177.2,311.0 172.6,314.0 168.2,317.0 163.9,320.0" stroke-width="0.83"/>
<polyline points="163.9,320.0 159.9,323.0 156.2,326.0 152.4,329.0 148.6,332.0" stroke-width="0.79"/>
<polyline points="148.6,332.0 144.4,335.0 139.8,338.0 134.8,341.0 129.8,344.0" stroke-width="0.84"/>
<polyline points="129.8,344.0 125.1,347.0 120.5,350.0 116.0,353.0 111.3,356.0" stroke-width="0.84"/>
<polyline points="111.3,356.0 106.4,359.0 101.5,362.0 96.5,366.0" stroke-width="0.83"/>
<polyline points="460.3,80 450,95.4 441.9,103.6 434.7,111.2 425.5,115.9" stroke-width="0.79"/>
<polyline points="425.5,115.9 412.2,124.1 404,131.3 394.8,138.4 384.6,147.6" stroke-width="0.78"/>
<polyline points="384.6,147.6 374.3,156.8 366,165 360,170 348.8,178.8" stroke-width="0.75"/>
<polyline points="348.8,178.8 340,185 336.3,190 330,200 320,210" stroke-width="0.79"/>
<polyline points="320,210 311.3,218.8 303.8,227.5 293.8,240 285.4,251.4" stroke-width="0.76"/>
<polyline points="285.4,251.4 280,258 259.5,274.5 235,293.6 207.7,318.2" stroke-width="0.77"/>
<polyline points="207.7,318.2 185.9,337.3 175,350.4 147.7,357.7 123.2,365.5" stroke-width="0.86"/>
<polyline points="242.7,80.0 241.6,83.0 240.4,86.0 239.1,89.0 237.8,92.0" stroke-width="0.93"/>
<polyline points="237.8,92.0 236.4,95.0 234.9,98.0 233.4,101.0 231.8,104.0" stroke-width="0.89"/>
<polyline points="231.8,104.0 230.2,107.0 228.5,110.0 226.6,113.0 224.4,116.0" stroke-width="0.85"/>
<polyline points="224.4,116.0 222.2,119.0 220.1,122.0 218.3,125.0 216.6,128.0" stroke-width="0.84"/>
<polyline points="216.6,128.0 215.1,131.0 213.8,134.0 212.6,137.0 211.6,140.0" stroke-width="0.92"/>
<polyline points="211.6,140.0 210.6,143.0 209.9,146.0 209.2,149.0 208.5,152.0" stroke-width="0.97"/>
<polyline points="208.5,152.0 207.9,155.0 207.2,158.0 206.3,161.0 205.4,164.0" stroke-width="0.97"/>
<polyline points="205.4,164.0 204.2,167.0 202.7,170.0 201.1,173.0 199.3,176.0" stroke-width="0.89"/>
<polyline points="199.3,176.0 197.4,179.0 195.4,182.0 193.3,185.0 191.2,188.0" stroke-width="0.83"/>
<polyline points="191.2,188.0 188.9,191.0 186.6,194.0 184.3,197.0 181.9,200.0" stroke-width="0.79"/>
<polyline points="181.9,200.0 179.5,203.0 177.1,206.0 174.6,209.0 172.1,212.0" stroke-width="0.77"/>
<polyline points="172.1,212.0 169.7,215.0 167.2,218.0 164.8,221.0 162.3,224.0" stroke-width="0.77"/>
<polyline points="162.3,224.0 159.9,227.0 157.6,230.0 155.2,233.0 152.9,236.0" stroke-width="0.79"/>
<polyline points="152.9,236.0 150.7,239.0 148.6,242.0 146.6,245.0 144.6,248.0" stroke-width="0.82"/>
<polyline points="144.6,248.0 142.8,251.0 141.0,254.0 139.3,257.0 137.6,260.0" stroke-width="0.86"/>
<polyline points="137.6,260.0 136.1,263.0 134.6,266.0 133.2,269.0 131.8,272.0" stroke-width="0.90"/>
<polyline points="131.8,272.0 130.5,275.0 129.2,278.0 127.9,281.0 126.6,284.0" stroke-width="0.92"/>
<polyline points="126.6,284.0 125.2,287.0 123.8,290.0 122.3,293.0 120.7,296.0" stroke-width="0.90"/>
<polyline points="120.7,296.0 119.1,299.0 117.3,302.0 115.4,305.0 113.5,308.0" stroke-width="0.86"/>
<polyline points="113.5,308.0 111.7,311.0 110.0,314.0 108.5,317.0 107.3,320.0" stroke-width="0.89"/>
<polyline points="107.3,320.0 106.4,323.0 105.6,326.0 104.9,329.0 104.0,332.0" stroke-width="0.96"/>
<polyline points="104.0,332.0 102.6,335.0 100.8,338.0 98.6,341.0 96.2,344.0" stroke-width="0.84"/>
<polyline points="96.2,344.0 94.1,347.0 92.3,350.0 91.1,353.0 90.3,356.0" stroke-width="0.89"/>
<polyline points="90.3,356.0 89.9,359.0 89.5,362.0 89.3,366.0" stroke-width="0.99"/>
<polyline points="248.2,80.0 247.2,83.0 246.1,86.0 244.9,89.0 243.6,92.0" stroke-width="0.93"/>
<polyline points="243.6,92.0 242.3,95.0 241.0,98.0 239.6,101.0 238.2,104.0" stroke-width="0.91"/>
<polyline points="238.2,104.0 236.7,107.0 235.1,110.0 233.4,113.0 231.5,116.0" stroke-width="0.87"/>
<polyline points="231.5,116.0 229.5,119.0 227.8,122.0 226.2,125.0 224.8,128.0" stroke-width="0.87"/>
<polyline points="224.8,128.0 223.6,131.0 222.5,134.0 221.4,137.0 220.4,140.0" stroke-width="0.94"/>
<polyline points="220.4,140.0 219.4,143.0 218.5,146.0 217.5,149.0 216.5,152.0" stroke-width="0.95"/>
<polyline points="216.5,152.0 215.4,155.0 214.2,158.0 213.0,161.0 211.6,164.0" stroke-width="0.93"/>
<polyline points="211.6,164.0 210.2,167.0 208.5,170.0 206.7,173.0 204.8,176.0" stroke-width="0.87"/>
<polyline points="204.8,176.0 202.6,179.0 200.4,182.0 198.1,185.0 195.7,188.0" stroke-width="0.80"/>
<polyline points="195.7,188.0 193.2,191.0 190.8,194.0 188.4,197.0 185.9,200.0" stroke-width="0.77"/>
<polyline points="185.9,200.0 183.6,203.0 181.2,206.0 178.9,209.0 176.5,212.0" stroke-width="0.79"/>
<polyline points="176.5,212.0 174.2,215.0 172.0,218.0 169.7,221.0 167.4,224.0" stroke-width="0.80"/>
<polyline points="167.4,224.0 165.1,227.0 162.8,230.0 160.6,233.0 158.4,236.0" stroke-width="0.80"/>
<polyline points="158.4,236.0 156.3,239.0 154.2,242.0 152.3,245.0 150.5,248.0" stroke-width="0.84"/>
<polyline points="150.5,248.0 148.7,251.0 146.9,254.0 145.2,257.0 143.5,260.0" stroke-width="0.86"/>
<polyline points="143.5,260.0 141.8,263.0 140.1,266.0 138.5,269.0 136.8,272.0" stroke-width="0.87"/>
<polyline points="136.8,272.0 135.1,275.0 133.5,278.0 131.9,281.0 130.4,284.0" stroke-width="0.88"/>
<polyline points="130.4,284.0 128.9,287.0 127.4,290.0 125.9,293.0 124.3,296.0" stroke-width="0.89"/>
<polyline points="124.3,296.0 122.7,299.0 121.0,302.0 119.2,305.0 117.4,308.0" stroke-width="0.87"/>
<polyline points="117.4,308.0 115.6,311.0 113.9,314.0 112.4,317.0 111.2,320.0" stroke-width="0.89"/>
<polyline points="111.2,320.0 110.2,323.0 109.0,326.0 107.7,329.0 106.1,332.0" stroke-width="0.92"/>
<polyline points="106.1,332.0 104.1,335.0 101.6,338.0 98.9,341.0 96.3,344.0" stroke-width="0.77"/>
<polyline points="96.3,344.0 94.1,347.0 92.4,350.0 91.3,353.0 90.6,356.0" stroke-width="0.90"/>
<polyline points="90.6,356.0 90.3,359.0 90.3,362.0 90.4,366.0" stroke-width="1.00"/>
<polyline points="250.2,80.0 249.4,83.0 248.4,86.0 247.3,89.0 246.1,92.0" stroke-width="0.95"/>
<polyline points="246.1,92.0 244.9,95.0 243.5,98.0 242.1,101.0 240.7,104.0" stroke-width="0.91"/>
<polyline points="240.7,104.0 239.2,107.0 237.5,110.0 235.6,113.0 233.4,116.0" stroke-width="0.85"/>
<polyline points="233.4,116.0 231.1,119.0 228.9,122.0 226.9,125.0 225.1,128.0" stroke-width="0.82"/>
<polyline points="225.1,128.0 223.5,131.0 222.0,134.0 220.8,137.0 219.7,140.0" stroke-width="0.91"/>
<polyline points="219.7,140.0 218.7,143.0 217.9,146.0 217.2,149.0 216.5,152.0" stroke-width="0.97"/>
<polyline points="216.5,152.0 215.7,155.0 214.9,158.0 214.0,161.0 213.0,164.0" stroke-width="0.96"/>
<polyline points="213.0,164.0 211.7,167.0 210.3,170.0 208.6,173.0 206.7,176.0" stroke-width="0.88"/>
<polyline points="206.7,176.0 204.6,179.0 202.4,182.0 200.1,185.0 197.7,188.0" stroke-width="0.80"/>
<polyline points="197.7,188.0 195.2,191.0 192.7,194.0 190.3,197.0 187.9,200.0" stroke-width="0.77"/>
<polyline points="187.9,200.0 185.5,203.0 183.3,206.0 181.1,209.0 179.0,212.0" stroke-width="0.80"/>
<polyline points="179.0,212.0 176.9,215.0 174.9,218.0 172.8,221.0 170.7,224.0" stroke-width="0.82"/>
<polyline points="170.7,224.0 168.5,227.0 166.2,230.0 163.8,233.0 161.3,236.0" stroke-width="0.79"/>
<polyline points="161.3,236.0 158.8,239.0 156.3,242.0 153.9,245.0 151.6,248.0" stroke-width="0.78"/>
<polyline points="151.6,248.0 149.4,251.0 147.3,254.0 145.4,257.0 143.6,260.0" stroke-width="0.83"/>
<polyline points="143.6,260.0 141.9,263.0 140.3,266.0 138.8,269.0 137.3,272.0" stroke-width="0.89"/>
<polyline points="137.3,272.0 135.8,275.0 134.4,278.0 132.9,281.0 131.5,284.0" stroke-width="0.90"/>
<polyline points="131.5,284.0 130.1,287.0 128.6,290.0 127.1,293.0 125.5,296.0" stroke-width="0.89"/>
<polyline points="125.5,296.0 123.8,299.0 121.9,302.0 120.0,305.0 118.0,308.0" stroke-width="0.85"/>
<polyline points="118.0,308.0 116.0,311.0 114.2,314.0 112.5,317.0 111.2,320.0" stroke-width="0.87"/>
<polyline points="111.2,320.0 110.1,323.0 108.9,326.0 107.7,329.0 106.2,332.0" stroke-width="0.92"/>
<polyline points="106.2,332.0 104.4,335.0 102.1,338.0 99.5,341.0 97.0,344.0" stroke-width="0.79"/>
<polyline points="97.0,344.0 94.8,347.0 93.1,350.0 91.9,353.0 91.2,356.0" stroke-width="0.89"/>
<polyline points="91.2,356.0 90.9,359.0 90.8,362.0 90.8,366.0" stroke-width="1.00"/></g><polyline points="245.7,80.0 244.7,83.0 243.5,86.0 242.3,89.0 241.0,92.0" fill="none" stroke="#0000ff" stroke-width="1.86" stroke-linejoin="round" shape-rendering="crispEdges"/><polyline points="241.0,92.0 239.6,95.0 238.2,98.0 236.8,101.0 235.3,104.0" fill="none" stroke="#0000ff" stroke-width="1.81" stroke-linejoin="round" shape-rendering="crispEdges"/><polyline points="235.3,104.0 233.8,107.0 232.1,110.0 230.3,113.0 228.2,116.0" fill="none" stroke="#0000ff" stroke-width="1.72" stroke-linejoin="round" shape-rendering="crispEdges"/><polyline points="228.2,116.0 226.2,119.0 224.2,122.0 222.5,125.0 221.0,128.0" fill="none" stroke="#0000ff" stroke-width="1.71" stroke-linejoin="round" shape-rendering="crispEdges"/><polyline points="221.0,128.0 219.6,131.0 218.3,134.0 217.2,137.0 216.2,140.0" fill="none" stroke="#0000ff" stroke-width="1.86" stroke-linejoin="round" shape-rendering="crispEdges"/><polyline points="216.2,140.0 215.2,143.0 214.3,146.0 213.4,149.0 212.4,152.0" fill="none" stroke="#0000ff" stroke-width="1.91" stroke-linejoin="round" shape-rendering="crispEdges"/><polyline points="212.4,152.0 211.5,155.0 210.5,158.0 209.3,161.0 208.1,164.0" fill="none" stroke="#0000ff" stroke-width="1.88" stroke-linejoin="round" shape-rendering="crispEdges"/><polyline points="208.1,164.0 206.8,167.0 205.3,170.0 203.6,173.0 201.8,176.0" fill="none" stroke="#0000ff" stroke-width="1.77" stroke-linejoin="round" shape-rendering="crispEdges"/><polyline points="201.8,176.0 199.9,179.0 197.9,182.0 195.8,185.0 193.6,188.0" fill="none" stroke="#0000ff" stroke-width="1.65" stroke-linejoin="round" shape-rendering="crispEdges"/><polyline points="193.6,188.0 191.3,191.0 189.0,194.0 186.7,197.0 184.3,200.0" fill="none" stroke="#0000ff" stroke-width="1.58" stroke-linejoin="round" shape-rendering="crispEdges"/><polyline points="184.3,200.0 181.9,203.0 179.6,206.0 177.2,209.0 174.8,212.0" fill="none" stroke="#0000ff" stroke-width="1.57" stroke-linejoin="round" shape-rendering="crispEdges"/><polyline points="174.8,212.0 172.5,215.0 170.2,218.0 167.8,221.0 165.5,224.0" fill="none" stroke="#0000ff" stroke-width="1.58" stroke-linejoin="round" shape-rendering="crispEdges"/><polyline points="165.5,224.0 163.2,227.0 160.8,230.0 158.5,233.0 156.2,236.0" fill="none" stroke="#0000ff" stroke-width="1.58" stroke-linejoin="round" shape-rendering="crispEdges"/><polyline points="156.2,236.0 153.9,239.0 151.7,242.0 149.6,245.0 147.6,248.0" fill="none" stroke="#0000ff" stroke-width="1.63" stroke-linejoin="round" shape-rendering="crispEdges"/><polyline points="147.6,248.0 145.7,251.0 143.8,254.0 142.1,257.0 140.3,260.0" fill="none" stroke="#0000ff" stroke-width="1.71" stroke-linejoin="round" shape-rendering="crispEdges"/><polyline points="140.3,260.0 138.7,263.0 137.1,266.0 135.5,269.0 133.9,272.0" fill="none" stroke="#0000ff" stroke-width="1.76" stroke-linejoin="round" shape-rendering="crispEdges"/><polyline points="133.9,272.0 132.4,275.0 131.0,278.0 129.5,281.0 128.1,284.0" fill="none" stroke="#0000ff" stroke-width="1.80" stroke-linejoin="round" shape-rendering="crispEdges"/><polyline points="128.1,284.0 126.6,287.0 125.2,290.0 123.6,293.0 122.1,296.0" fill="none" stroke="#0000ff" stroke-width="1.79" stroke-linejoin="round" shape-rendering="crispEdges"/><polyline points="122.1,296.0 120.4,299.0 118.6,302.0 116.7,305.0 114.8,308.0" fill="none" stroke="#0000ff" stroke-width="1.71" stroke-linejoin="round" shape-rendering="crispEdges"/><polyline points="114.8,308.0 113.0,311.0 111.3,314.0 109.8,317.0 108.5,320.0" fill="none" stroke="#0000ff" stroke-width="1.77" stroke-linejoin="round" shape-rendering="crispEdges"/><polyline points="108.5,320.0 107.6,323.0 106.8,326.0 106.0,329.0 104.9,332.0" fill="none" stroke="#0000ff" stroke-width="1.91" stroke-linejoin="round" shape-rendering="crispEdges"/><polyline points="104.9,332.0 103.5,335.0 101.5,338.0 99.3,341.0 96.9,344.0" fill="none" stroke="#0000ff" stroke-width="1.66" stroke-linejoin="round" shape-rendering="crispEdges"/><polyline points="96.9,344.0 94.7,347.0 92.9,350.0 91.7,353.0 90.9,356.0" fill="none" stroke="#0000ff" stroke-width="1.78" stroke-linejoin="round" shape-rendering="crispEdges"/><polyline points="90.9,356.0 90.5,359.0 90.1,362.0 89.9,365.0 89.8,366.0" fill="none" stroke="#0000ff" stroke-width="1.99" stroke-linejoin="round" shape-rendering="crispEdges"/>
<g shape-rendering="crispEdges"><rect x="65.5" y="65.5" width="550" height="310" fill="none" stroke="#000" stroke-width="1"/>
<line x1="65" y1="75.5" x2="76" y2="75.5" stroke="#000"/>
<line x1="605" y1="75.5" x2="616" y2="75.5" stroke="#000"/>
<line x1="65" y1="104.5" x2="71" y2="104.5" stroke="#000"/>
<line x1="610" y1="104.5" x2="616" y2="104.5" stroke="#000"/>
<line x1="65" y1="133.5" x2="71" y2="133.5" stroke="#000"/>
<line x1="610" y1="133.5" x2="616" y2="133.5" stroke="#000"/>
<line x1="65" y1="162.5" x2="71" y2="162.5" stroke="#000"/>
<line x1="610" y1="162.5" x2="616" y2="162.5" stroke="#000"/>
<line x1="65" y1="191.5" x2="71" y2="191.5" stroke="#000"/>
<line x1="610" y1="191.5" x2="616" y2="191.5" stroke="#000"/>
<line x1="65" y1="220.5" x2="76" y2="220.5" stroke="#000"/>
<line x1="605" y1="220.5" x2="616" y2="220.5" stroke="#000"/>
<line x1="65" y1="249.5" x2="71" y2="249.5" stroke="#000"/>
<line x1="610" y1="249.5" x2="616" y2="249.5" stroke="#000"/>
<line x1="65" y1="278.5" x2="71" y2="278.5" stroke="#000"/>
<line x1="610" y1="278.5" x2="616" y2="278.5" stroke="#000"/>
<line x1="65" y1="307.5" x2="71" y2="307.5" stroke="#000"/>
<line x1="610" y1="307.5" x2="616" y2="307.5" stroke="#000"/>
<line x1="65" y1="336.5" x2="71" y2="336.5" stroke="#000"/>
<line x1="610" y1="336.5" x2="616" y2="336.5" stroke="#000"/>
<line x1="128.5" y1="370" x2="128.5" y2="376" stroke="#000"/>
<line x1="128.5" y1="65" x2="128.5" y2="71" stroke="#000"/>
<line x1="181.5" y1="365" x2="181.5" y2="376" stroke="#000"/>
<line x1="181.5" y1="65" x2="181.5" y2="76" stroke="#000"/>
<line x1="234.5" y1="370" x2="234.5" y2="376" stroke="#000"/>
<line x1="234.5" y1="65" x2="234.5" y2="71" stroke="#000"/>
<line x1="287.5" y1="365" x2="287.5" y2="376" stroke="#000"/>
<line x1="287.5" y1="65" x2="287.5" y2="76" stroke="#000"/>
<line x1="340.5" y1="370" x2="340.5" y2="376" stroke="#000"/>
<line x1="340.5" y1="65" x2="340.5" y2="71" stroke="#000"/>
<line x1="393.5" y1="365" x2="393.5" y2="376" stroke="#000"/>
<line x1="393.5" y1="65" x2="393.5" y2="76" stroke="#000"/>
<line x1="446.5" y1="370" x2="446.5" y2="376" stroke="#000"/>
<line x1="446.5" y1="65" x2="446.5" y2="71" stroke="#000"/>
<line x1="499.5" y1="365" x2="499.5" y2="376" stroke="#000"/>
<line x1="499.5" y1="65" x2="499.5" y2="76" stroke="#000"/>
<line x1="552.5" y1="370" x2="552.5" y2="376" stroke="#000"/>
<line x1="552.5" y1="65" x2="552.5" y2="71" stroke="#000"/>
<line x1="605.5" y1="365" x2="605.5" y2="376" stroke="#000"/>
<line x1="605.5" y1="65" x2="605.5" y2="76" stroke="#000"/></g>
<text y="30" font-family="Liberation Mono" font-weight="bold" font-size="14.5" text-anchor="middle"><tspan x="313.80">T</tspan><tspan x="323.40" font-family="Liberation Serif" font-size="15.5">0</tspan><tspan x="333.00" font-family="Liberation Serif" font-size="15.5">9</tspan><tspan x="342.60" font-family="Liberation Serif" font-size="15.5">8</tspan><tspan x="352.20" font-family="Liberation Serif" font-size="15.5">7</tspan></text>
<text y="420" font-family="Liberation Mono" font-weight="bold" font-size="14.5" text-anchor="middle"><tspan x="223.52">P</tspan><tspan x="233.18">e</tspan><tspan x="242.82">r</tspan><tspan x="252.47">c</tspan><tspan x="262.12">e</tspan><tspan x="271.77">n</tspan><tspan x="281.43">t</tspan><tspan x="300.73">o</tspan><tspan x="310.38">f</tspan><tspan x="329.68">R</tspan><tspan x="339.32">e</tspan><tspan x="348.98">s</tspan><tspan x="358.62">i</tspan><tspan x="368.27">d</tspan><tspan x="377.93">u</tspan><tspan x="387.57">e</tspan><tspan x="397.23">s</tspan><tspan x="416.52">(</tspan><tspan x="426.18">C</tspan><tspan x="435.82">A</tspan><tspan x="445.48">)</tspan></text>
<text y="0" transform="translate(30.7,233) rotate(-90)" font-family="Liberation Mono" font-weight="bold" font-size="14.5" text-anchor="middle"><tspan x="-83.72">D</tspan><tspan x="-73.88">i</tspan><tspan x="-64.02">s</tspan><tspan x="-54.17">t</tspan><tspan x="-44.32">a</tspan><tspan x="-34.48">n</tspan><tspan x="-24.62">c</tspan><tspan x="-14.77">e</tspan><tspan x="4.92">C</tspan><tspan x="14.77">u</tspan><tspan x="24.62">t</tspan><tspan x="34.48">o</tspan><tspan x="44.32">f</tspan><tspan x="54.17">f</tspan><tspan x="64.02">,</tspan><tspan x="83.72">A</tspan></text>
<text y="395" font-family="Liberation Mono" font-weight="bold" font-size="14.5" text-anchor="middle"><tspan x="64.80" font-family="Liberation Serif" font-size="15.5">0</tspan></text>
<text y="395" font-family="Liberation Mono" font-weight="bold" font-size="14.5" text-anchor="middle"><tspan x="175.80" font-family="Liberation Serif" font-size="15.5">2</tspan><tspan x="185.40" font-family="Liberation Serif" font-size="15.5">0</tspan></text>
<text y="395" font-family="Liberation Mono" font-weight="bold" font-size="14.5" text-anchor="middle"><tspan x="282.50" font-family="Liberation Serif" font-size="15.5">4</tspan><tspan x="292.10" font-family="Liberation Serif" font-size="15.5">0</tspan></text>
<text y="395" font-family="Liberation Mono" font-weight="bold" font-size="14.5" text-anchor="middle"><tspan x="388.20" font-family="Liberation Serif" font-size="15.5">6</tspan><tspan x="397.80" font-family="Liberation Serif" font-size="15.5">0</tspan></text>
<text y="395" font-family="Liberation Mono" font-weight="bold" font-size="14.5" text-anchor="middle"><tspan x="493.60" font-family="Liberation Serif" font-size="15.5">8</tspan><tspan x="503.20" font-family="Liberation Serif" font-size="15.5">0</tspan></text>
<text y="395" font-family="Liberation Mono" font-weight="bold" font-size="14.5" text-anchor="middle"><tspan x="599.80">1</tspan><tspan x="609.40" font-family="Liberation Serif" font-size="15.5">0</tspan><tspan x="619.00" font-family="Liberation Serif" font-size="15.5">0</tspan></text>
<text y="0" transform="translate(55,65.8) rotate(-90)" font-family="Liberation Mono" font-weight="bold" font-size="14.5" text-anchor="middle"><tspan x="-4.80">1</tspan><tspan x="4.80" font-family="Liberation Serif" font-size="15.5">0</tspan></text>
<text y="0" transform="translate(55,220.4) rotate(-90)" font-family="Liberation Mono" font-weight="bold" font-size="14.5" text-anchor="middle"><tspan x="0.00" font-family="Liberation Serif" font-size="15.5">5</tspan></text>
<text y="0" transform="translate(55,375.5) rotate(-90)" font-family="Liberation Mono" font-weight="bold" font-size="14.5" text-anchor="middle"><tspan x="0.00" font-family="Liberation Serif" font-size="15.5">0</tspan></text>
</svg></body></html>
